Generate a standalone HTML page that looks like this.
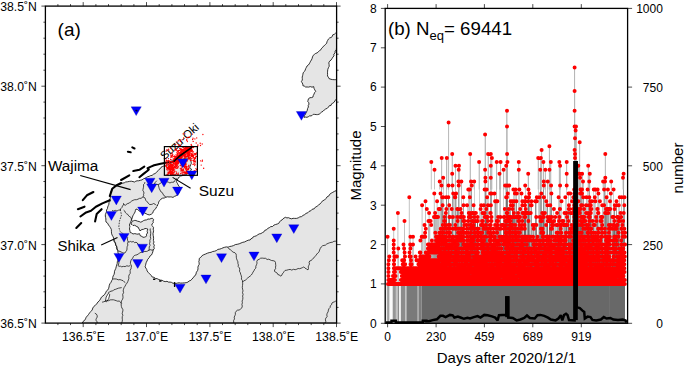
<!DOCTYPE html>
<html><head><meta charset="utf-8"><style>
html,body{margin:0;padding:0;background:#fff;width:685px;height:368px;overflow:hidden}
svg{display:block}
</style></head><body>
<svg width="685" height="368" viewBox="0 0 685 368">
<rect width="685" height="368" fill="#fff"/>
<g>
<rect x="45.4" y="6.1" width="291.2" height="317" fill="#fff"/>
<clipPath id="mc"><rect x="45.4" y="6.1" width="291.2" height="317"/></clipPath>
<g clip-path="url(#mc)">
<polygon points="82.2,323.1 83,321.5 84.6,320.4 85.5,318.9 86.2,317.2 87.4,315.9 88.5,314.5 89.6,312.9 90.9,311.4 92.2,310 92.8,308 93.9,306.4 95.4,305.1 96.9,303.8 97.9,302 99.4,300.7 100.5,299 101.4,297.2 103,295.9 104.5,294.6 105.6,292.9 106.2,291.3 107.6,290.2 108.5,288.7 109,287 109.3,285.2 110,283.6 111.1,282.2 111.7,280.6 112.6,279.2 112.7,277.5 113.2,275.9 114,274.5 114.4,273 114.5,271.3 115.1,269.9 115.8,268.4 116.2,266.8 116.7,265.1 117.2,263.5 117.3,261.8 117.9,260.2 117.9,258.6 118.2,257 118.7,255.5 118.4,253.9 117.9,252.3 117.8,250.6 116.9,249.1 117,247.2 116.2,245.7 115.6,244.3 115.1,242.8 114.1,241.5 113.8,240 113.7,238.2 113,236.6 112.1,235.1 111.5,233.2 111.4,231.3 111.3,229.4 110.5,227.8 109.6,226.4 108.5,225 107.6,223.2 106,222 105.8,220.5 105.9,219 105.6,217.5 105.3,216 105.4,214.5 106,213 106.5,211.6 106.5,210 107.4,208.6 107.7,207 108.3,205.5 108.9,204.2 108.9,202.7 109.8,201.5 109.7,199.6 110.4,197.9 110.3,196 110.5,194.5 110.5,193 111,191.5 111.9,189.9 112.7,188.2 114,187.1 115,185.7 116.7,185.3 118.2,184.5 119.9,184.1 121.3,183.5 122.8,183.1 124.3,182.8 125.6,182 127.5,181.8 129.4,181.4 131.3,181.2 133,181.6 134.6,182 135.8,181.2 137.1,180.8 138.6,180.8 140.3,180.3 142,179.9 143.5,178.8 145,178.3 146.3,177.5 147.7,176.7 149.2,176.3 150.6,175.6 152.1,175.4 153.3,174.3 155.1,173.5 156.6,172.3 157.8,170.9 159,169.4 160.3,168.7 161,167.3 162.3,166.6 163.9,166 165.5,165.3 167.2,165.1 168.5,164.2 170,163.5 171.7,162.8 173.3,162 175,161.5 176.7,161 178.5,160.9 180,160 181.5,159 183.4,159.1 185,158.3 186.4,158.2 187.8,158 189,157.3 189.8,158.5 191,159.5 190.8,160.9 191.2,162.2 191.3,163.5 190.7,164.7 190.2,166.1 189.5,167.3 190.8,168.4 191.5,170 190,171.3 189,173 187.6,173.6 186.5,174.6 185,175 183.5,175.3 182,175.7 180.5,176 179.6,176.9 178.5,177.5 177.9,178.9 177.1,180.1 176.4,181.4 176.9,182.6 177.6,183.7 178.2,185.1 179.1,186.3 179.8,187.7 180.1,189.2 179.7,190.7 179.3,192.2 178.6,193.6 177.3,194.5 176.4,195.7 174.6,196.3 173,197.4 171.7,197 170.4,196.9 169,197 167.4,196.8 165.9,197.2 164.3,198 162.5,198.2 161,199.1 159.7,200.5 158.6,202.1 158.5,203.6 157.6,204.8 157.4,206.1 156.5,206.9 155.9,208.5 154.5,209.6 153.4,211.2 152.7,213.1 151.3,214.2 149.7,214.9 147.8,214.6 146.1,213.7 144.4,212.9 142.6,212.4 141,211.5 139.6,211.2 138.5,210.4 137.5,209.5 136,209 135.4,210.4 135.1,211.9 134.4,213.2 133.6,214.5 132.8,215.9 132.4,217.5 131.8,219 131.2,220.9 130.4,222.6 129.9,223.8 129.4,225 129.9,226.3 129.6,227.7 129.5,229 129.9,230.7 130.2,232.5 131.7,233 133,234 134.8,233.6 136.5,234 138,234.2 139.4,233.6 139.9,234.8 140.5,236 141.9,236.4 143,237.3 144.3,237.2 145.5,237 146.5,235.8 146.5,234.1 147.6,233 147.2,231.6 147.4,230.3 147.8,229 146.4,228.6 145,228.5 143.6,229.3 142,229.5 140.9,230.1 140,231 139.6,229.9 139,229 138.5,228 138,227 136.9,226.7 136,226 134.6,225.3 133,225.5 132.2,224.7 131.2,224.3 131.2,222.6 132.4,221.7 133.5,220.8 134.7,220.4 135.9,220.5 137.5,221.2 139.1,221.5 140.7,222.2 142.1,221.6 143.4,220.7 144.9,220.1 146.5,219.9 148,219 149.7,219.1 151,218.5 152.4,218.2 153.6,219.7 153,221.2 153.3,222.7 152.2,223.8 151.7,225.3 152.8,226.4 153.6,227.7 153.2,229.1 153.6,230.6 153.4,232 153,233.7 153.2,235.4 153.5,237 153.6,238.7 153.4,240.4 154,242 153.4,243.7 154.4,245.2 153.8,246.9 154.3,248.5 153.2,250 152.8,251.9 152.2,253.6 151.4,255.1 149.9,256.1 149.2,257.7 147.8,259.2 147,261 146.1,262.8 145.8,264.1 145.5,265.5 145.1,266.8 145.9,268.1 146.7,269.4 147.1,270.9 148.3,272.5 149.7,273.9 151.1,275.3 152.2,277 154,277.3 155.4,278.4 157.2,278.7 158.8,279.5 160.4,280.1 162.1,280.3 163.6,281.2 165.2,281.6 167,281.3 168.5,282.1 170.1,282.1 171.6,282.4 173,283.3 174.6,283.1 176.1,283.4 177.6,283 179.2,282.8 180.7,283.1 182.5,283 184.3,282.9 186.2,282.7 187.9,282.1 189.1,281 190.8,280.4 191.9,279.1 193.1,277.9 193.9,276.5 195.3,275.5 196,274 196.4,272.2 197.5,270.7 198,268.9 197.9,267.3 198.3,265.8 199.2,264.4 199.1,262.8 198.8,261.4 199.3,260.1 199.1,258.7 200.2,257.7 201.3,256.8 202.1,255.6 203.8,254.7 205.6,254 207.4,253.2 209.2,252.6 211.1,252.3 212.7,251.5 214.6,251.2 216.3,250.6 217.9,249.4 219.8,249.1 221.5,248.5 223,247.8 224.6,247.3 226.3,246.9 228.1,247.2 229.6,246.5 231.6,246.2 233.5,245.6 235.3,244.6 237.2,244.3 239.2,243.8 241,243 242.8,242.3 244.7,241.9 246.4,241 248.2,240.2 250.1,240 250.9,238.8 252.4,238.2 253.1,236.9 254.7,236.3 256.3,235.8 257.7,234.8 259.2,233.9 260.9,233.6 262.3,232.7 263.9,231.9 264.8,230.3 266.6,229.8 267.7,228.4 269.3,227.7 270.8,226.6 272.6,226.5 273.9,225.1 275.6,224.5 277.3,224 278.8,223.3 279.6,221.9 280.6,220.7 282,220 282.9,218.9 284.1,218 285.4,217.3 286.9,217.9 288.5,217.7 290,218.4 291.6,218.8 293.1,218.3 294.7,218.4 296.5,218.4 298.2,217.9 299.8,216.9 301.6,216.6 303,215.4 304.7,214.6 306,213.4 307.8,212.8 309,211.4 310.8,210.8 312.1,209.3 314.2,208.8 315.3,207.2 317.1,206.3 318.5,205 320.1,203.9 321.4,202.4 322.6,200.8 324.5,200 325.9,198.6 327,196.9 328.7,196.1 329.7,194.3 331.2,193.2 332.8,192.3 334.4,191.4 336.1,190.7 337.4,189.3 337.4,323.1" fill="#e5e5e5" stroke="#000" stroke-width="0.8" stroke-linejoin="round"/>
<polygon points="337.4,32.9 335.6,33.1 334.3,34.3 332.8,34.8 332.2,36.6 331,37.5 329.5,38 328.4,39.1 327.7,40.4 327,41.7 326.7,43.2 325.7,44.3 324.7,45.1 323.7,46.1 322.9,47.1 321.7,48.2 320.9,49.7 319.5,50.6 318.4,51.8 317.1,52.9 315.7,53.4 314.5,54.3 313.2,55.4 312.5,56.9 312.1,58.5 311.4,60 310.6,61.2 309.9,62.6 309.2,63.9 308.3,65.1 307,66 306.4,67.3 305.7,68.6 305.2,70.1 304.4,71.5 303.2,72.7 302.9,74.3 302.6,75.7 302.2,77.1 302.3,78.6 302.3,80.1 301.4,81.4 302.1,82.8 302.8,84.1 302.9,85.7 304.3,86.1 305.6,87 307.1,87 308.6,87.1 310.3,86.6 312,87.2 313.7,86.6 314,88.3 314.8,89.9 315.7,91.4 314.6,92.6 314,94.1 313.3,95.5 312.9,97.1 311.5,97.6 310,97.7 308.5,98.7 308,100.4 307.8,101.7 308.7,102.6 309,104.1 308.2,105.5 308.4,107 307.6,108.5 307.3,110.2 306.7,111.6 305.9,113 305.3,114.5 304.2,115.7 304,117.3 305.5,117.1 307,117.3 308.4,116.7 309.5,115.9 311.1,115.9 312.3,115.3 313.3,114.3 314.7,114.4 316.2,114.6 317.6,114.6 319.2,114.2 320.4,113.2 321.6,112.1 323,111.3 324.2,110 325.6,109 327.3,108.3 328.5,107 329.3,105.7 331,105.5 331.5,103.9 332.8,103.2 334.3,102.1 335,100.4 336.1,99.5 337.4,99 337.4,80.6 335.9,79.7 334.2,79.7 332.6,79.6 331,79.3 330,78.9 329,78.6 328.4,77.2 327.5,76 327.6,74.4 327.5,72.8 327.6,71.1 327.8,69.4 328.4,67.8 329.2,66.3 329.1,64.5 328.8,62.8 329.6,61.2 331,60.1 332,58.6 332.9,57.1 334,55.9 333.8,54.1 335.1,52.9 335,51.1 336.3,50 336.5,48.3 337.4,47" fill="#e5e5e5" stroke="#000" stroke-width="0.8" stroke-linejoin="round"/>
<polygon points="105.4,301.2 106.2,297 108.4,293.3 109.8,294.6 108.6,298.8 106.6,301.8" fill="#fff" stroke="#000" stroke-width="0.7"/>
<polyline points="120.3,209.6 121.5,215 119.5,221 118.8,227 120,231.5 123.5,234 127.7,237.2" fill="none" stroke="#000" stroke-width="0.7" stroke-dasharray="1.6,1.1"/>
<path d="M153.6 279.3h1.2M159.7 281h1.3M174.6 282.8v3.6" stroke="#000" stroke-width="1.4" stroke-linecap="round" fill="none"/>
<polyline points="227.9,247.5 229,248.9 230.5,249.8 231.8,251 233.1,252.2 234.9,252.7 236.1,254 236.3,255.6 236.3,257.2 236.6,258.8 237.2,260.3 237.9,261.8 237.9,263.4 238.4,264.9 238.2,266.6 239.5,268 239.7,269.6 239.5,271.3 240.3,272.7 240.7,274.3 241.3,275.8 241.6,277.4 241.4,279.1 242.4,280.5 242.6,282.1 242.7,283.9 242.5,285.6 242.3,287.4 242.6,289.1 243,290.9 242.5,292.6 243.1,294.4 242.6,296.1 242.9,297.8 242.7,299.5 242.1,301.1 242.4,302.8 241.9,304.4 242.3,306.1 241.9,307.8 240.6,309 239.2,310 237.4,310.2 236.1,311.3 235.3,312.6 235.4,314.3 234.9,315.7 234.2,317.1 234.5,318.9 233.6,320.6 233.7,322.4 233.3,324.1" fill="none" stroke="#000" stroke-width="0.7" stroke-linejoin="round"/>
<polyline points="242.6,282.1 243.6,280.9 245.2,280.3 246.4,279.3 247.6,278.2 248.7,277 250.1,276.2 251.3,275 252.3,273.6 253,272.1 254,270.7 254.7,269.2 255.9,268 255.8,266.3 256.5,264.7 257,263.2 256.8,261.4 257.6,259.9 259.2,259.3 260.6,258.2 262.3,258.1 263.9,258.3 265.6,258.3 267.1,259.5 268.8,259.2 270.2,259.9 271.6,260.5 273.1,260.7 274.6,261 275.5,262.5 275.6,264.1 275.8,265.7 275.5,267.2 275.6,268.7 274.5,270 274.6,271.5 275.9,272.3 277.2,273.1 277.9,274.6 279.6,275 280.5,276.2 281.8,275.3 282.3,273.9 283.3,272.8 284.1,271.5 285.1,270.4 286.8,270.2 288.4,269.7 290.1,269.4 291.8,270.1 293.4,269.3 295.2,269.7 296.8,269.2 298.1,268.5 299.7,268.7 301.1,268.2 302.5,267.6 303.8,266.9 305,268.1 306.6,269 308,269.9 308.5,268.5 308.2,266.9 308.8,265.4 309.5,264 309.1,262.4 309.7,261 311.1,260.5 312.2,259.6 313.1,258.3 314.3,257.5 315.1,256.3 316.1,255.2 316.9,254 317.9,252.9 319.2,251.7 319.6,250 320.3,248.4 321.2,247 322.5,245.8 324,245.4 325.5,245.1 326.7,244 328.1,243.4 329.5,242.8 331,242.4 332.5,242.2 333.9,241.3 335.4,241.2 336.4,241.2 337.4,241" fill="none" stroke="#000" stroke-width="0.7" stroke-linejoin="round"/>
<polyline points="324.9,323.1 325.8,321.6 325.4,319.8 325.8,318.1 327.1,316.7 326.8,314.9 327.2,313.3 328.1,311.8 328.4,310.1 329,308.6 330.1,307.5 330.3,305.8 331.6,304.7 331.9,303.1 333,302.3 334.3,301.9 335.4,301.2 336.4,301.5 337.4,301" fill="none" stroke="#000" stroke-width="0.7" stroke-linejoin="round"/>
<polyline points="127.7,237.2 127.4,238.8 127.6,240.4 128.2,241.9 127.5,243.3 127.9,245.1 127.2,246.5 127,247.7 127,249 126.8,250.2 125.8,251.6 124.9,253 123.6,253 122.4,252.6 121.2,252 119.9,251.4 118.6,251.1 117.5,250.2 117.2,249 116.4,247.8 116.6,246.5 115.6,245.1 115.6,243.4 114.8,241.9 114.2,240.5 113.8,239.1" fill="none" stroke="#000" stroke-width="0.7" stroke-linejoin="round"/>
<polyline points="128.2,241.9 129.4,241.9 130.5,241.4 131.8,242 133.3,241.5 134.5,242.6 136,242.3 137.1,242.8 137.8,244 138.8,244.6 140.1,245.6 140.5,247.2 141.6,248.3 142.5,249.4 142.6,250.9 143.4,252 142.1,252.1 140.9,252.4 139.7,253 138.4,253.9 137,254.8 135.6,255.1 134.3,255.6 133.3,256.7 132.7,258.3 131.4,259.4 130.9,260.7 130.5,262 130.4,263.4 130.9,264.7 131.5,266 131.2,267.4 131,268.9 130.1,270.2 130.2,271.7 130.2,273.4 129.1,274.9 128.7,276.5 128.9,278.3 128.4,279.9 127.8,281.5 127,283.1 125.9,284.5 125.1,286.1 124.1,287.6 123.5,289.2 123.2,290.9 123.6,292.7 122.7,294.3 122.9,296.1 123,297.7 122.6,299.2 121.7,300.5 121.2,302 121.2,303.5 121.2,305 121.4,306.5 121.9,308 122.8,309.3 122.9,310.8 122.5,312.2 122.2,313.7 122.9,315.2 122.3,316.6 122.2,318.1 122.4,319.6 122.3,321.1 121.8,322.5 121.7,324" fill="none" stroke="#000" stroke-width="0.7" stroke-linejoin="round"/>
<polyline points="143.4,252 144.8,251.4 146.3,251.5 147.7,251 149,250.2 150.4,249.7 152,250.2 153.4,249.7" fill="none" stroke="#000" stroke-width="0.7" stroke-linejoin="round"/>
<polyline points="150.3,228.5 150.1,230.1 150.7,231.7 150.7,233.4 150.5,235 150.3,236.7 150.7,238.5 149.8,240.2 150,242 149.5,243.6 150.1,245.3 149.2,246.9 149.2,248.6 149,250.2" fill="none" stroke="#000" stroke-width="0.7" stroke-linejoin="round"/>
<polyline points="116.8,254.6 117.5,256.3 118.2,257.9 119.2,259.4 118.5,260.9 118.9,262.6 118.7,264.1 118,265.6 119.1,266.3 120.5,266.2 121.7,266.8 123.4,266.4 125.1,266.6 126.8,265.8 128.6,266.2 130.2,265.6" fill="none" stroke="#000" stroke-width="0.7" stroke-linejoin="round"/>
<polyline points="113.1,279 114.9,278.9 116.6,279.1 118.2,279.8 120,279.6 121.7,280.2 123.1,280.7 124.1,281.8 125.3,282.7" fill="none" stroke="#000" stroke-width="0.7" stroke-linejoin="round"/>
<polyline points="108.2,292.5 109.7,291.9 111,291.1 112.6,291 113.8,289.8 115.4,289.4 116.8,288.8 118.4,288.2 120,287.9 121.7,287.6" fill="none" stroke="#000" stroke-width="0.7" stroke-linejoin="round"/>
<polyline points="102.1,302.2 103.7,301.8 105.3,301.2 106.9,300.5 108.7,300.7 110.2,299.9 111.9,299.8 113.4,299.8 114.8,300.2 116.3,300.7 117.7,301.2 119.2,301 120.5,302.2 121.7,303.5" fill="none" stroke="#000" stroke-width="0.7" stroke-linejoin="round"/>
<polyline points="94.8,313.2 96.4,314.1 97.2,315.7 97.2,317.1 96.5,318.2 96,319.4 96.2,320.7 97.1,321.8 97.2,323.1" fill="none" stroke="#000" stroke-width="0.7" stroke-linejoin="round"/>
<polyline points="144.9,182.1 144.6,183.5 143.5,184.5 143.6,186.1 143.4,187.7 143,189.3 142.9,190.7 143.7,191.8 144,193.1 143.5,194.3 143.7,195.7 143,196.9 142,197.6 141.1,198.3 139.4,198.4 138,199.2 136.4,199.7 134.7,199.7 133.1,200.3 131.6,201.1 130.4,202 129.3,203.1 127.8,203.5 126.4,204.2 125.4,205.4 124.2,204.7 123.5,203.5 123.5,204.9 122.4,206 122.1,207.3 120.9,208.5 120.2,210 118.5,210.2 117,211 115.4,210.4 113.6,211 112,210.5" fill="none" stroke="#000" stroke-width="0.7" stroke-linejoin="round"/>
<polyline points="143,196.9 143.9,197.4 144.9,197.8 145.4,199.1 145.9,200.5 146.8,201.6 147.9,202.4 148.6,203.6 149.7,204.5 151.1,204.5 152.3,204.2 153.5,203.5 155.1,204.2 156.3,205.4" fill="none" stroke="#000" stroke-width="0.7" stroke-linejoin="round"/>
<polyline points="156.8,180.7 156,181.6 155.1,182.6 154.4,183.6 155.6,184.2 156.8,184.6 158.2,184.5 159.7,184 160.7,182.8 162,182.1 163.6,182.1 165,181.2 166.7,181.7 168.4,182.2 170,183 171.2,182.3 172.7,182.3 174,182 174.7,180.6 175.8,179.5 177,178.5" fill="none" stroke="#000" stroke-width="0.7" stroke-linejoin="round"/>
<polyline points="158.2,184.5 158.6,185.9 158.9,187.3 159.3,188.7 160,190 160.7,191.6 162.2,192.5 163,194 163.7,195.4 165,196.2 166,197.2" fill="none" stroke="#000" stroke-width="0.7" stroke-linejoin="round"/>
<polyline points="123.6,210.1 124.8,211.1 125.4,212.6 126.5,213.7 127.9,214.5 128.7,215.9 129.9,216.8 131.2,217.7 131.4,219.5 132.3,221" fill="none" stroke="#000" stroke-width="0.7" stroke-linejoin="round"/>
<polyline points="82.8,200.2 86.9,195.3 93.4,192" fill="none" stroke="#000" stroke-width="2.1" stroke-linecap="round" stroke-linejoin="round"/>
<polyline points="77.9,209.2 84.5,206.7" fill="none" stroke="#000" stroke-width="2.1" stroke-linecap="round" stroke-linejoin="round"/>
<polyline points="80.4,216.5 86.1,212.4 91,210.8 95.9,206.7 102.4,203.4 109.8,200.2" fill="none" stroke="#000" stroke-width="2.1" stroke-linecap="round" stroke-linejoin="round"/>
<polyline points="95.1,221.4 96.7,214 101.6,209.2" fill="none" stroke="#000" stroke-width="2.1" stroke-linecap="round" stroke-linejoin="round"/>
<polyline points="76.3,227.9 81.2,223" fill="none" stroke="#000" stroke-width="2.1" stroke-linecap="round" stroke-linejoin="round"/>
<polyline points="109.8,196.1 112.2,188.8 116.3,185.5 121.2,183" fill="none" stroke="#000" stroke-width="2.1" stroke-linecap="round" stroke-linejoin="round"/>
<polyline points="121.1,180 129.3,175.3" fill="none" stroke="#000" stroke-width="2.1" stroke-linecap="round" stroke-linejoin="round"/>
<polyline points="133.3,171 139.4,169.8 144.3,166.6" fill="none" stroke="#000" stroke-width="2.1" stroke-linecap="round" stroke-linejoin="round"/>
<polyline points="174.1,161.2 171,161.8 167.2,162.5 160.6,163.7 154.1,165.3 150.9,166.6 147.6,168.2 148.8,169.4 147.2,171 143.5,173.9 139.4,177.2" fill="none" stroke="#000" stroke-width="2.1" stroke-linecap="round" stroke-linejoin="round"/>
<polyline points="127.9,151.7 130.7,152.2" fill="none" stroke="#000" stroke-width="2.1" stroke-linecap="round" stroke-linejoin="round"/>
<polyline points="132.3,147.4 134.5,148.5" fill="none" stroke="#000" stroke-width="2.1" stroke-linecap="round" stroke-linejoin="round"/>
</g>
<text x="0" y="0" font-size="11.5" style="font-family:'Liberation Sans',sans-serif" transform="translate(164.6,160.2) rotate(-42)">Suzu-Oki</text>
<path d="M183.9 160.2h0M185.5 163h0M186.7 160.8h0M185.1 162.8h0M185.9 163.2h0M185.9 163.5h0M183.8 161.4h0M184.2 160.6h0M185.4 161.4h0M183.6 162.5h0M184.5 164.5h0M185.3 160.8h0M183.7 161.6h0M170.6 159.5h0M170.8 159.5h0M170.7 164.3h0M173.5 160.4h0M171.1 159.6h0M171.5 161.4h0M173.1 161.3h0M169.7 161.7h0M169.3 162.3h0M187.2 147.9h0M185.2 148.2h0M189.1 148.3h0M177.7 163.2h0M174.8 163.3h0M176.9 164.4h0M178.3 163h0M175.5 163.7h0M173.8 165.2h0M178.6 163.2h0M194.8 154.7h0M195.7 157.1h0M196 154.3h0M169.9 165.2h0M169 166.4h0M171.1 166.4h0M170.4 164.8h0M168.9 166.3h0M169.8 166.1h0M168.7 164.2h0M170.9 166.6h0M168.5 164.8h0M169.1 166.1h0M170.4 165.5h0M171.1 166.1h0M170 167.1h0M169.2 166h0M171.1 164.6h0M174.9 150.4h0M177.6 151.2h0M175 149.8h0M178.6 150.3h0M176.4 150.1h0M177.4 150.9h0M176.4 149.3h0M177.2 151h0M186.9 147.2h0M187.6 147.5h0M187.6 147.4h0M187.9 147.5h0M192.7 151.6h0M190.6 151.3h0M189.3 149.4h0M190.7 149.7h0M192.4 150.4h0M191.1 148.6h0M188.7 152.1h0M180 161.6h0M179.9 161h0M180.2 161.2h0M181.4 161.4h0M181.7 161.2h0M181.5 159.7h0M178.9 161.5h0M180.8 161.8h0M180.2 160.5h0M181.2 160.3h0M182.4 160.8h0M181.3 162.4h0M181.2 162.9h0M181.8 159.6h0M181.4 162h0M173 159.1h0M173.4 162.2h0M171.9 162.1h0M173 161.8h0M174.4 161.1h0M174.1 159.9h0M174.1 160.3h0M173.4 162.9h0M185.9 162.2h0M184.2 161.9h0M185.3 164h0M184.6 161.8h0M184.8 162.1h0M186.2 164.7h0M185.3 164.9h0M186.1 148.5h0M184.9 150.6h0M183.5 149.3h0M185.4 148.9h0M186.2 150.9h0M186.2 149.5h0M185.4 149.5h0M179.5 150.5h0M184.4 152.3h0M183 149.7h0M181.3 151.7h0M182.3 151.3h0M184 152.6h0M184.6 150.5h0M182.5 149.4h0M183.7 149.6h0M181.8 153.2h0M185.1 151.8h0M184 148.1h0M183.8 151.1h0M182.9 150.8h0M171.5 157h0M170.7 154.9h0M172.2 153.9h0M172.4 155.3h0M170.6 157.1h0M172.2 157h0M172.6 155.6h0M172.7 155.3h0M171.3 155.9h0M172.9 154.8h0M187.8 156.3h0M189.3 156h0M187.3 156.4h0M188.6 156.9h0M186.9 156.9h0M189.2 158.8h0M191.4 156.5h0M188.5 156.5h0M190.1 158.2h0M189.1 158.4h0M188.8 157.4h0M190.3 157.2h0M188.9 157.1h0M194.9 153.7h0M195.9 156.6h0M196.4 153h0M195.4 154.8h0M195.9 153.5h0M196.6 156.4h0M178.3 162h0M178.4 163.6h0M178.9 161.8h0M178.7 162h0M178.2 163.6h0M178.6 163.2h0M177.1 161.9h0M179.5 160.6h0M178.2 160.2h0M185.3 147.7h0M184.9 148h0M186.4 147.3h0M186.5 156.2h0M184 157h0M184.2 156.7h0M184.6 154.6h0M187.4 155.4h0M185.7 154.2h0M166.7 167.6h0M168.3 168.8h0M168.6 168.8h0M169 167.6h0M166.9 169.4h0M169.4 168.7h0M168.4 167.4h0M168.9 167.8h0M168.8 167.2h0M169.3 169h0M168.4 167.4h0M168.8 166.6h0M170 167.9h0M167.9 168.5h0M167.3 170.1h0M187.1 148.5h0M185.5 148.7h0M186.4 147.6h0M185.9 148.3h0M185.7 148h0M186.8 147.8h0M187.3 148.9h0M186.4 147.6h0M186.1 149.9h0M186.3 147.8h0M185.9 147.5h0M172.9 168.8h0M171.2 169.6h0M173 168h0M171.8 169.3h0M174.1 170h0M173.2 169h0M173.4 169.3h0M175.4 168.1h0M172.6 170.7h0M190 148.5h0M189.9 147.4h0M192.5 147.6h0M192.5 147.5h0M193.6 147.5h0M190 147.5h0M190.3 148.5h0M191.2 149h0M190.9 149.2h0M190.6 148h0M192.9 147.2h0M191.4 147.7h0M190.7 147.1h0M191.3 147.6h0M191 148.9h0M182.3 154h0M183.8 156h0M183.1 152.6h0M182.9 154.9h0M182 157.1h0M183 154.7h0M182.9 154.3h0M182.4 155.2h0M183.6 154.6h0M178.9 158.5h0M179.1 156.5h0M179 159.2h0M180.4 157.3h0M180 158.4h0M178.9 158h0M179.7 159h0M180.7 157.1h0M178.8 156.7h0M180 157.1h0M180 158.6h0M181.4 157.4h0M179.8 157.2h0M179.5 156.4h0M181 157.9h0M180.5 157.9h0M177.2 163.7h0M176.1 164.5h0M175.2 162.6h0M176.2 162.7h0M175.4 164.6h0M173.9 161.3h0M176 164.2h0M173.8 161.5h0M176 162.8h0M175.8 164.4h0M177.1 162.5h0M174.9 163.4h0M173.3 163.9h0M176.8 162.2h0M174.8 162.6h0M176.6 162h0M185.8 151h0M187 149.5h0M186.1 148.8h0M185.8 150.9h0M186.1 148.4h0M187 150h0M186.2 148.2h0M187.6 150.4h0M184.1 148.2h0M188.6 148.3h0M184.5 149.9h0M186 150.1h0M184.3 150.7h0M190 150.6h0M189.3 147.3h0M188 148.9h0M188 148.5h0M189.4 148.4h0M188.6 150h0M189.7 150.2h0M187.4 149.1h0M189.4 149.5h0M189.8 151.1h0M189.3 147.7h0M175.8 159.4h0M175.3 156.8h0M176.8 160h0M176.6 160.6h0M175 158.5h0M175.8 161h0M173.6 158.9h0M174.7 159.8h0M177.1 158.8h0M174.1 159.2h0M175.1 157.5h0M176.4 158.6h0M176.2 157.7h0M176.7 157.6h0M183.7 147.8h0M182.7 147h0M185.7 147.2h0M177.5 158.5h0M180.9 156.5h0M180.8 156.6h0M180.3 156.1h0M177.3 158.7h0M178.5 155.5h0M181.3 158.3h0M178.9 157.6h0M180.8 158.6h0M181.4 156.8h0M186.2 152.7h0M185.2 152h0M185.9 151h0M187.7 151.8h0M185.8 151.1h0M186 152.7h0M185.5 152.2h0M187.9 150h0M185.7 152.3h0M173.5 160.8h0M172.8 162.3h0M172.4 164.4h0M173.6 163.4h0M169.9 163.2h0M170.7 161.6h0M172 164.5h0M170.5 163.9h0M174.3 163.8h0M176.6 168.3h0M176 165.2h0M178 162.1h0M175.6 165.4h0M176.6 166.2h0M177.2 164.8h0M175.5 165.6h0M175 166.5h0M186.9 149.2h0M186.6 147.9h0M188.8 147.7h0M187.2 149.3h0M186.5 148.9h0M185.9 147.6h0M186.2 148.8h0M186.4 147.1h0M187.3 149.5h0M185.5 150.2h0M185.2 147.2h0M185.8 149.6h0M187.3 148.2h0M171 167.8h0M172.8 166h0M172.9 167.9h0M172.7 168.8h0M172.5 167.8h0M171.6 168.8h0M170.3 168.1h0M173.1 168.7h0M176.9 152.7h0M177.4 153.3h0M178.3 153.1h0M179.5 153.8h0M178.1 154.6h0M177.7 155h0M177.5 153.7h0M177.7 154.7h0M179.5 155h0M178.1 155.3h0M177.9 154.7h0M177.1 153.1h0M183.6 153h0M181 152.2h0M179.5 154h0M182.1 152.4h0M181.6 155.1h0M182.4 153h0M183.4 151.5h0M181.7 153.3h0M182.6 152.8h0M192.5 147.1h0M190.2 147.6h0M191.1 150.4h0M189.1 151.2h0M189.7 150.4h0M190 148.3h0M189.2 148.8h0M190.3 149.1h0M181.9 161.7h0M181.6 163.3h0M182.2 160.7h0M182.9 161.2h0M185 162.4h0M183.6 161.6h0M181.6 163h0M184 161.7h0M181.7 162.3h0M183.7 161.9h0M184.6 163.1h0M184.3 161.4h0M181.4 161.4h0M177.3 161.8h0M176.8 163.4h0M175.4 160.8h0M177.6 162.5h0M176.8 159.9h0M175.3 164.4h0M174.6 161.1h0M181 164.8h0M183.1 165.6h0M180.6 162.9h0M184.3 165h0M183.7 164.8h0M182.8 163.8h0M182.8 164.8h0M182.6 164.2h0M184.3 162.6h0M181.9 164.5h0M182.4 163.7h0M185 164.3h0M182.3 165.1h0M185.5 162.6h0M181 157.2h0M182.1 155.7h0M181.1 157.5h0M182.1 157.2h0M180.1 156h0M179.6 156.7h0M172.7 166h0M169.9 167.3h0M170.5 168.6h0M172.1 165.1h0M173 168.1h0M173.1 167.4h0M171.7 168h0M171 166.2h0M171.6 168.2h0M171.4 166.1h0M168.9 165.9h0M189.1 148h0M188 149.5h0M188.1 149.7h0M188.8 148.1h0M189.2 148.5h0M187.9 147.9h0M190.2 148.3h0M180.6 153h0M181.7 152.7h0M181.7 152.8h0M182.8 153.6h0M180.8 153.7h0M180.9 151.2h0M179.9 154.7h0M181.4 153.8h0M189.6 155.5h0M193.6 155.4h0M193.2 154.8h0M193.1 154.9h0M190 154.8h0M191.2 153.9h0M192 153.5h0M191.3 156.1h0M192.3 154.3h0M190.5 155.1h0M191.4 154.8h0M192.1 153.5h0M192 153.8h0M192.2 154.8h0M189.2 148.6h0M189.8 148.2h0M191.2 150.1h0M189.4 147.8h0M189.9 147.8h0M190.2 148.4h0M189.3 148.6h0M189.5 150.2h0M188.5 149.7h0M189.1 149h0M189.6 150.8h0M189.5 148h0M190.6 149.5h0M190.1 148.2h0M191.3 151h0M181.5 156.3h0M181.1 155.1h0M182.1 155.4h0M181.7 159.4h0M182.3 155.9h0M179.7 155.9h0M182.3 155h0M181.2 153.3h0M182.1 155.1h0M182.3 157.3h0M181.3 156.9h0M181.8 155.6h0M178.9 160.1h0M180 158.4h0M178.6 161.4h0M179.4 160.7h0M178.4 162.3h0M178.7 159.2h0M177.1 161.3h0M178.4 159.2h0M176.8 160.5h0M178.9 161.5h0M177.2 160.1h0M179.2 160.7h0M179.8 159.9h0M176.5 160.2h0M176.9 160.3h0M184.6 154.7h0M186.2 152.1h0M185.6 152.9h0M181.7 154.2h0M184.2 152.9h0M184.4 154h0M187.6 151.8h0M187 151.8h0M188.5 153.9h0M188.5 153.2h0M186.9 153.3h0M187.5 151.4h0M187.1 152.4h0M187 153h0M189.5 151.2h0M186.8 152.4h0M188.9 153.6h0M187.7 153h0M187 153.7h0M189.4 154.3h0M186.6 151.8h0M186.2 152.9h0M185.4 151.7h0M187 152.2h0M185.5 152.2h0M185.7 152.2h0M186 150.8h0M186.6 152.8h0M186.2 151.8h0M185.8 152.7h0M186.9 151.3h0M188.2 152.6h0M186.8 152.3h0M185.8 151.1h0M185.7 151.4h0M188.4 152.2h0M187.1 152.3h0M187 152.2h0M185.9 152h0M186.4 152.2h0M187.3 152.2h0M174.7 158.2h0M173.5 156.6h0M174.7 156h0M177.6 159h0M175.9 157.4h0M176 158.6h0M176 157h0M175.3 158.4h0M176.1 154.6h0M176.5 155.8h0M182 151.1h0M183 150h0M182.6 150.8h0M182 149.4h0M183.7 150.1h0M181.7 150.6h0M180.8 150.1h0M180.9 149.6h0M180.4 149.3h0M183.3 149.9h0M175.7 157.6h0M174.8 160.1h0M175.9 159h0M177.6 156.7h0M176.4 157.5h0M177 158.1h0M175 158.2h0M177.2 157.8h0M177 157.6h0M171 165.1h0M169.3 169.1h0M168.4 167h0M171.6 167.5h0M169 167.8h0M169.5 168.1h0M170 165.5h0M176.1 162.8h0M177.8 163.4h0M174.8 164h0M175.7 161.8h0M177.7 161.8h0M175.5 163.5h0M176.4 162.1h0M178 163.4h0M177.6 164.8h0M177 166h0M175.8 164.4h0M178.2 161.9h0M177.7 161.3h0M178.5 163.6h0M176.9 163.2h0M176.4 164.2h0M183.5 152.8h0M186.5 149.6h0M185.6 151.8h0M183.4 152.3h0M185 150.8h0M185.3 150.4h0M186.4 152.6h0M185.3 150.7h0M185.2 150.4h0M183.6 153.5h0M183.6 153.9h0M186.3 152.4h0M185.9 152.5h0M185.5 152.4h0M184.9 153h0M181.9 153.4h0M179.6 152.9h0M180.3 153.6h0M180.5 152.4h0M180.7 151.5h0M178.1 153.5h0M179.5 152.7h0M178.3 151.9h0M187.2 156.1h0M184.6 155.8h0M183.1 155h0M184.9 155.2h0M185.1 155.9h0M185.1 155h0M183.7 154.8h0M184.6 155.6h0M187.4 156.3h0M185.7 151.5h0M188.1 148.7h0M187.8 150.3h0M188.3 150h0M187 149.5h0M187.5 150.2h0M186.6 150h0M186.5 151h0M186.2 148.7h0M186.2 151.5h0M186.7 151h0M188.1 149.8h0M188.1 150.9h0M187 150.6h0M186 150.5h0M185.8 150.4h0M185.8 152h0M185.4 151.3h0M185.4 152.9h0M184.6 150.9h0M185 151h0M185.6 149.6h0M184.5 150.3h0M186.4 152.1h0M184.8 151.3h0M183 151h0M184.9 148.9h0M183 147.3h0M166.2 163.9h0M167.3 163.2h0M165.4 166h0M167.8 167.1h0M166.8 164.6h0M168.5 166.4h0M166.8 165.7h0M166.4 166.6h0M166.8 165.5h0M168.9 163.8h0M165.1 161.8h0M166.6 167.3h0M182.8 150.4h0M183.8 150.7h0M182.6 151h0M184.6 150.3h0M184.7 151.2h0M183.9 148.2h0M184.9 151h0M185.9 151.2h0M184.2 150.4h0M185.7 149.7h0M178.3 166.6h0M175.6 166.8h0M177.1 167.3h0M174.8 166.7h0M175.8 167.1h0M176 164.8h0M174.4 166.3h0M175.4 165.8h0M175.1 167.4h0M178.4 159.6h0M177.1 160.9h0M176.9 159.5h0M176.6 160h0M176.7 161h0M176 161.4h0M176.8 160.3h0M177.5 160.5h0M176.4 158h0M176.9 159.4h0M177.6 160.5h0M175.8 161.2h0M176.7 160.7h0M177.2 160.5h0M175.7 160.1h0M176.3 160.2h0M166.2 160.6h0M167 162.1h0M167.6 161h0M166.6 160.7h0M168.2 160.3h0M168.5 158.6h0M169.1 160.7h0M182.6 149.7h0M179.7 148.4h0M180.8 150.2h0M183.3 151h0M181.6 149.1h0M180.8 148.6h0M182 151.5h0M181.8 149.6h0M180.1 148.7h0M187.2 148.9h0M189.2 151.7h0M189 152.3h0M190.8 150.2h0M189.3 152.1h0M188.3 153.4h0M188.6 152.2h0M189.4 151.4h0M188.6 152.3h0M188.6 152.1h0M190.3 153h0M188.6 154.1h0M189.2 153.4h0M189.9 152.5h0M182 160.3h0M181.2 160.7h0M183.6 160.5h0M183.8 161.5h0M182.1 161.3h0M183.8 160.1h0M184.4 161.2h0M175.9 156.5h0M176.9 157.2h0M177.7 156.3h0M176.4 156.3h0M175.8 156.8h0M176.2 157.1h0M177.1 156.1h0M174.6 156.7h0M178.2 154.9h0M175 156.1h0M191.2 150.4h0M191.7 149.3h0M191.2 149.7h0M191.6 150.1h0M190.8 150.6h0M190.3 149.1h0M190.4 149.8h0M191.1 151.3h0M191.3 149.9h0M191.8 150.6h0M192.5 150.3h0M190.7 148h0M192.2 151.9h0M190.7 151.4h0M190.4 149.6h0M178 161.6h0M178.1 162.5h0M178 161h0M178.4 161.4h0M176.2 160.9h0M179.4 161.4h0M177.6 162.3h0M177.5 161.8h0M177.3 162.5h0M177.9 162.3h0M178.3 162.5h0M177.7 162.9h0M179.2 162h0M177.6 162.3h0M178.6 162.7h0M187 154.7h0M188.1 154.7h0M187 153.5h0M185.3 155.2h0M187.9 155.1h0M187 154.8h0M187.1 153.7h0M188.5 155.5h0M188.8 154.8h0M171.9 165.1h0M173 166.7h0M171.6 168.8h0M170.2 165.4h0M172.8 167.4h0M170.5 165.8h0M174.2 167.9h0M172.3 166.3h0M171.6 166.7h0M171.4 164.1h0M170.9 166.4h0M178.1 158.7h0M177.6 160.6h0M178.8 157.9h0M177.7 159.1h0M177 157.2h0M179 156.7h0M179 159.6h0M179.9 158.2h0M180.3 157.8h0M179.7 155.6h0M182.3 156.8h0M179.2 157.2h0M179 156.6h0M177.6 154.9h0M181.4 155.4h0M179.6 156.1h0M180.4 155.5h0M179.7 158h0M182.1 156.4h0M179.1 155.4h0M180.1 156.6h0M182.2 155.5h0M180.6 155.6h0M180.6 155.3h0M176.7 166.6h0M177.7 168.1h0M180.2 165.6h0M177.8 167.8h0M178.3 166.8h0M175.6 167.8h0M174.3 167.1h0M171.2 172.8h0M171.9 173.1h0M171 174.9h0M170.9 173.7h0M170.4 171.7h0M171.8 172.6h0M170.5 174.6h0M171.6 174h0M183.2 169h0M182.7 169.6h0M180.3 168.3h0M181.5 169h0M180.9 169.7h0M183.2 169.2h0M183.4 169.7h0M181.5 168.1h0M186.1 171.7h0M186.2 170.8h0M186.3 172.1h0M186.4 171.5h0M186.2 171.1h0M186.1 172.6h0M186.7 172.8h0M186.3 172.4h0M176.6 164.3h0M178.7 161.2h0M176.5 163.3h0M177.6 163.4h0M178.4 162.9h0M177.7 165h0M168.1 172.4h0M168.2 174.7h0M167.1 174.4h0M169 172h0M168 172.2h0M168 173.6h0M177.7 174.6h0M178.4 173.1h0M180.7 173.5h0M178.2 174.5h0M186 172h0M184.8 172.3h0M182.2 172.1h0M183.9 171.1h0M185.6 173.3h0M172.7 168.4h0M172.4 168h0M170.6 168.7h0M172.9 169.6h0M173.6 169.7h0M174.7 169.9h0M173.9 168.3h0M171.6 168.2h0M171.9 170.2h0M168.5 167.6h0M166.8 168h0M168.3 168.4h0M167.6 168.6h0M169.4 169.3h0M168.3 167h0M170.1 169.4h0M169.8 170.9h0M171.4 171.3h0M170.4 170.5h0M168.9 170h0M170.1 173h0M169.9 171.6h0M170.1 172.3h0M171 173.8h0M170.9 173.5h0M171.1 172.4h0M169 173.2h0M171.8 172.1h0M169.5 172.6h0M168.9 172.1h0M169.8 167h0M169.4 165.2h0M169.1 164.8h0M170.7 165.2h0M170.7 165.8h0M182.9 165.9h0M184.2 166h0M184.3 165.4h0M181.6 164.7h0M183.9 164.6h0M174.3 169.9h0M176 171.6h0M173.2 172.6h0M174.1 171.4h0M172.2 170.8h0M172.5 171.8h0M173.5 170.4h0M174.3 172.1h0M173.1 169.6h0M174.4 171.6h0M172.9 172.8h0M170.6 174.1h0M171.9 173.4h0M171.3 173.5h0M169.9 172.9h0M172.1 173.2h0M170 173.1h0M170.2 173.1h0M172.4 174.4h0M168.8 168.6h0M168.1 167.9h0M171.6 167.1h0M171.3 167.6h0M171.6 168.3h0M170.4 167.9h0M170.5 168.3h0M168.6 167.5h0M181.8 170.1h0M182.4 170.8h0M183.2 170.2h0M183.1 169.7h0M181 171h0M184.1 172.6h0M184 171.4h0M188.5 169.5h0M186.6 168.4h0M185.8 169.4h0M186.7 170h0M188.5 169.6h0M186.6 170.6h0M187.3 171.2h0M185.1 172.4h0M186.3 169.8h0M182.7 174.2h0M185.1 173.4h0M184.1 174.3h0M182 172.9h0M183.4 172.6h0M174.9 174.7h0M176 174.1h0M176.9 173.6h0M176.6 173h0M171.3 173.9h0M173.6 174.6h0M173.2 173.1h0M170.7 173.7h0M171.5 174.1h0M171.9 172h0M172.5 172.8h0M172.6 173.7h0M173.9 173.1h0M187.5 171.9h0M186.5 172.7h0M185.8 172.7h0M187.8 173.5h0M186.6 173h0M186.1 171.7h0M185.8 172.5h0M187.1 173.2h0M186.1 173.6h0M186.3 170.8h0M192.8 157.8h0M192.7 156.2h0M193.4 155.8h0M188.9 168.4h0M187.5 169.3h0M188 169.6h0M186.9 167.9h0M187.6 169.3h0M185.8 167.9h0M193.5 156.9h0M195.3 157.5h0M195.5 158.3h0M195.1 158h0M194 157.7h0M193.5 151.9h0M194 153.6h0M196.5 169.7h0M195.9 168.6h0M195 170.6h0M194.1 170.8h0M195.5 171.4h0M193.6 173.3h0M195.1 172.1h0M189.6 152.3h0M187.9 151.9h0M185.9 168.3h0M184.8 166.3h0M185.7 168.5h0M186.5 166.6h0M185.1 166.7h0M184.5 166.9h0M184.5 156.7h0M185 156.6h0M184.5 156.7h0M186.4 167.3h0M185.8 166.2h0M186.7 167h0M186.1 168.1h0M185.1 167.7h0M185.8 157.8h0M185.7 156.1h0M185.2 156.2h0M185.5 156.7h0M185 157.4h0M186 156.5h0M188.5 168.1h0M189.1 167.8h0M188 168.8h0M188.2 166.4h0M184.1 158.6h0M184.7 156.1h0M182.9 155.6h0M184.5 156.3h0M185.1 155.9h0M183.6 166.4h0M184.6 167.7h0M183.1 166h0M182.9 166.5h0M183.4 165.7h0M182 166.7h0M193.2 160.6h0M194 159.3h0M194.1 160.2h0M187 161.3h0M187.3 160.2h0M192.9 160.3h0M195.1 158.5h0M194.1 158.9h0M194.7 159.9h0M193 164.4h0M194.7 165.6h0M195.1 164.2h0M188.9 165.5h0M189 165.3h0M189 159.2h0M186.7 160.4h0M188.2 158.6h0M189.1 159.4h0M191.1 160.5h0M191.7 158.7h0M190.6 157.7h0M190.5 160.3h0M189.1 159.6h0M193.3 156.8h0M192.1 155.9h0M193 156.3h0M192.3 156.2h0M194.1 163.7h0M194.5 161.6h0M193.5 161.8h0M194.4 161.7h0M195.4 161.2h0M195.3 162h0M166.7 149.8h0M176.9 148.6h0M178.5 150.7h0M166.3 151h0M166.1 159.1h0M170.8 148.2h0M171.8 153h0M168.8 150.1h0M168.6 149.2h0M176.8 150.3h0M193.2 141.4h0M179.9 145.2h0M180.4 141.4h0M197.9 145h0M180.8 140h0M189.5 137.4h0M187.4 141.6h0M196.7 137.9h0M194.9 138.9h0M186.8 140.4h0M187.3 137.4h0M182.6 146.6h0M191.2 144.5h0M197.8 146h0M187.1 137.6h0M175.6 144.4h0M186 146.4h0M188.8 137.1h0M196.2 143h0M186.6 146.8h0M178.5 145h0M191.2 144.9h0M191.8 145.9h0M203.6 168.3h0M201.2 165.1h0M184.9 133.8h0M200.2 143.2h0M200.6 160.8h0M183.6 138h0M178.3 140.6h0M202.2 161.3h0M202.2 144h0M192.5 134.1h0M183.1 133.8h0M202.4 160.2h0M193 138.2h0M202.9 134.5h0M186.7 139.3h0M180.6 146.2h0M200.5 145.5h0M177.9 141.8h0M179.9 145.1h0M203.7 168.2h0M192.6 139.5h0" stroke="#ff0000" stroke-width="1.35" stroke-linecap="round" fill="none"/>
<polyline points="191.5,147.6 186.1,151.4 180.7,155.2 176.3,159 174.1,161.2" fill="none" stroke="#000" stroke-width="1.7" stroke-linecap="round"/>
<polygon points="131.1,106.8 141.3,106.8 136.2,115.6" fill="#0000ff" stroke="#0000a0" stroke-width="0.3"/>
<polygon points="296.3,111.5 306.5,111.5 301.4,120.3" fill="#0000ff" stroke="#0000a0" stroke-width="0.3"/>
<polygon points="144.8,178.2 155,178.2 149.9,187" fill="#0000ff" stroke="#0000a0" stroke-width="0.3"/>
<polygon points="146.6,183.9 156.8,183.9 151.7,192.7" fill="#0000ff" stroke="#0000a0" stroke-width="0.3"/>
<polygon points="158.9,178.2 169.1,178.2 164,187" fill="#0000ff" stroke="#0000a0" stroke-width="0.3"/>
<polygon points="172.5,187.1 182.7,187.1 177.6,195.9" fill="#0000ff" stroke="#0000a0" stroke-width="0.3"/>
<polygon points="177.7,159 187.9,159 182.8,167.8" fill="#0000ff" stroke="#0000a0" stroke-width="0.3"/>
<polygon points="186.7,171 196.9,171 191.8,179.8" fill="#0000ff" stroke="#0000a0" stroke-width="0.3"/>
<polygon points="111.2,196.1 121.4,196.1 116.3,204.9" fill="#0000ff" stroke="#0000a0" stroke-width="0.3"/>
<polygon points="106.3,211.6 116.5,211.6 111.4,220.4" fill="#0000ff" stroke="#0000a0" stroke-width="0.3"/>
<polygon points="137.6,207.1 147.8,207.1 142.7,215.9" fill="#0000ff" stroke="#0000a0" stroke-width="0.3"/>
<polygon points="118.9,233.4 129.1,233.4 124,242.2" fill="#0000ff" stroke="#0000a0" stroke-width="0.3"/>
<polygon points="113.9,253.4 124.1,253.4 119,262.2" fill="#0000ff" stroke="#0000a0" stroke-width="0.3"/>
<polygon points="137.3,244.2 147.5,244.2 142.4,253" fill="#0000ff" stroke="#0000a0" stroke-width="0.3"/>
<polygon points="132.6,259.6 142.8,259.6 137.7,268.4" fill="#0000ff" stroke="#0000a0" stroke-width="0.3"/>
<polygon points="174.9,284.2 185.1,284.2 180,293" fill="#0000ff" stroke="#0000a0" stroke-width="0.3"/>
<polygon points="200.9,275 211.1,275 206,283.8" fill="#0000ff" stroke="#0000a0" stroke-width="0.3"/>
<polygon points="216.4,253.8 226.6,253.8 221.5,262.6" fill="#0000ff" stroke="#0000a0" stroke-width="0.3"/>
<polygon points="248.9,252 259.1,252 254,260.8" fill="#0000ff" stroke="#0000a0" stroke-width="0.3"/>
<polygon points="271.7,233.9 281.9,233.9 276.8,242.7" fill="#0000ff" stroke="#0000a0" stroke-width="0.3"/>
<polygon points="288.7,224.7 298.9,224.7 293.8,233.5" fill="#0000ff" stroke="#0000a0" stroke-width="0.3"/>
<path d="M136 110.4l0.8 0.3" stroke="#000030" stroke-width="1.5" stroke-linecap="round"/>
<rect x="164.4" y="146.6" width="33" height="28.7" fill="none" stroke="#000" stroke-width="1.2"/>
<polyline points="80.2,175.5 130.6,189.6" stroke="#000" stroke-width="1.1" fill="none"/>
<polyline points="172.6,177.4 190.6,188.3" stroke="#000" stroke-width="1.1" fill="none"/>
<polyline points="101.2,245.1 117.5,237.4" stroke="#000" stroke-width="1.1" fill="none"/>
<text x="47.9" y="171.3" font-size="15.3" style="font-family:'Liberation Sans',sans-serif">Wajima</text>
<text x="198.7" y="195.6" font-size="15.5" style="font-family:'Liberation Sans',sans-serif">Suzu</text>
<text x="57.4" y="250.6" font-size="15" style="font-family:'Liberation Sans',sans-serif">Shika</text>
<text x="57.6" y="35.6" font-size="19" style="font-family:'Liberation Sans',sans-serif">(a)</text>
<rect x="45.4" y="6.1" width="291.2" height="317" fill="none" stroke="#000" stroke-width="1.3"/>
<path d="M57.9 6.1v-2M57.9 323.1v2M70.5 6.1v-2M70.5 323.1v2M83.2 6.1v-4M83.2 323.1v4M95.9 6.1v-2M95.9 323.1v2M108.5 6.1v-2M108.5 323.1v2M121.2 6.1v-2M121.2 323.1v2M133.9 6.1v-2M133.9 323.1v2M146.5 6.1v-4M146.5 323.1v4M159.2 6.1v-2M159.2 323.1v2M171.9 6.1v-2M171.9 323.1v2M184.5 6.1v-2M184.5 323.1v2M197.2 6.1v-2M197.2 323.1v2M209.9 6.1v-4M209.9 323.1v4M222.5 6.1v-2M222.5 323.1v2M235.2 6.1v-2M235.2 323.1v2M247.8 6.1v-2M247.8 323.1v2M260.5 6.1v-2M260.5 323.1v2M273.2 6.1v-4M273.2 323.1v4M285.8 6.1v-2M285.8 323.1v2M298.5 6.1v-2M298.5 323.1v2M311.2 6.1v-2M311.2 323.1v2M323.8 6.1v-2M323.8 323.1v2M336.5 6.1v-4M336.5 323.1v4M45.4 6.1h-4M336.6 6.1h4M45.4 22.2h-2M336.6 22.2h2M45.4 38.2h-2M336.6 38.2h2M45.4 54.2h-2M336.6 54.2h2M45.4 70.2h-2M336.6 70.2h2M45.4 86.2h-4M336.6 86.2h4M45.4 102.1h-2M336.6 102.1h2M45.4 118h-2M336.6 118h2M45.4 133.9h-2M336.6 133.9h2M45.4 149.8h-2M336.6 149.8h2M45.4 165.7h-4M336.6 165.7h4M45.4 181.5h-2M336.6 181.5h2M45.4 197.3h-2M336.6 197.3h2M45.4 213.1h-2M336.6 213.1h2M45.4 228.9h-2M336.6 228.9h2M45.4 244.6h-4M336.6 244.6h4M45.4 260.4h-2M336.6 260.4h2M45.4 276.1h-2M336.6 276.1h2M45.4 291.8h-2M336.6 291.8h2M45.4 307.4h-2M336.6 307.4h2M45.4 323.1h-4M336.6 323.1h4" stroke="#000" stroke-width="0.7" fill="none"/>
<text x="36.9" y="11" font-size="12.2" text-anchor="end" style="font-family:'Liberation Sans',sans-serif">38.5˚N</text>
<text x="36.9" y="91.1" font-size="12.2" text-anchor="end" style="font-family:'Liberation Sans',sans-serif">38.0˚N</text>
<text x="36.9" y="170.6" font-size="12.2" text-anchor="end" style="font-family:'Liberation Sans',sans-serif">37.5˚N</text>
<text x="36.9" y="249.5" font-size="12.2" text-anchor="end" style="font-family:'Liberation Sans',sans-serif">37.0˚N</text>
<text x="36.9" y="328" font-size="12.2" text-anchor="end" style="font-family:'Liberation Sans',sans-serif">36.5˚N</text>
<text x="83.5" y="341.3" font-size="12.3" text-anchor="middle" style="font-family:'Liberation Sans',sans-serif">136.5˚E</text>
<text x="146.8" y="341.3" font-size="12.3" text-anchor="middle" style="font-family:'Liberation Sans',sans-serif">137.0˚E</text>
<text x="210.2" y="341.3" font-size="12.3" text-anchor="middle" style="font-family:'Liberation Sans',sans-serif">137.5˚E</text>
<text x="273.5" y="341.3" font-size="12.3" text-anchor="middle" style="font-family:'Liberation Sans',sans-serif">138.0˚E</text>
<text x="336.8" y="341.3" font-size="12.3" text-anchor="middle" style="font-family:'Liberation Sans',sans-serif">138.5˚E</text>
</g>
<g>
<rect x="386.1" y="283.9" width="1" height="39.4" fill="rgb(235,235,235)"/>
<rect x="387.1" y="283.9" width="2.5" height="39.4" fill="rgb(160,160,160)"/>
<rect x="389.6" y="283.9" width="3.1" height="39.4" fill="rgb(250,250,250)"/>
<rect x="392.7" y="283.9" width="3.2" height="39.4" fill="rgb(150,150,150)"/>
<rect x="395.9" y="283.9" width="1.8" height="39.4" fill="rgb(195,195,195)"/>
<rect x="397.7" y="283.9" width="1.3" height="39.4" fill="rgb(140,140,140)"/>
<rect x="399" y="283.9" width="1.9" height="39.4" fill="rgb(240,240,240)"/>
<rect x="400.9" y="283.9" width="4.3" height="39.4" fill="rgb(140,140,140)"/>
<rect x="405.2" y="283.9" width="1.3" height="39.4" fill="rgb(185,185,185)"/>
<rect x="406.5" y="283.9" width="11.2" height="39.4" fill="rgb(122,122,122)"/>
<rect x="417.7" y="283.9" width="1.3" height="39.4" fill="rgb(170,170,170)"/>
<rect x="419" y="283.9" width="2.5" height="39.4" fill="rgb(125,125,125)"/>
<rect x="421.5" y="283.9" width="18.7" height="39.4" fill="rgb(103,103,103)"/>
<path d="M393.7 228.8V283.9M387.6 236.7V283.9M393.7 240.6V283.9M393.7 244.6V283.9M393.7 248.5V283.9M398.3 248.5V283.9M393.7 252.4V283.9M403.5 244.6V283.9M404.1 248.5V283.9M404.6 252.4V283.9M410.4 236.7V283.9M413 236.7V283.9M410.2 244.6V283.9M413 244.6V283.9M410.4 248.5V283.9M409.5 252.4V283.9M397.9 213.1V283.9M404.5 221V283.9M409.3 197.3V283.9M419.8 252.4V283.9M422.1 205.2V283.9M425.5 201.3V283.9M437.1 201.3V283.9M429.1 213.1V283.9M435.1 213.1V283.9M434.3 193.4V283.9M438.7 209.1V283.9M440 209.1V283.9M434 217V283.9M435.3 217V283.9M436.6 217V283.9M437.9 217V283.9M428.5 221V283.9M429.8 221V283.9M439.4 232.8V283.9M421.7 236.7V283.9M423 236.7V283.9M424.3 236.7V283.9M436 236.7V283.9M437.3 236.7V283.9M438.6 236.7V283.9M439.9 236.7V283.9M436 240.6V283.9M437.3 240.6V283.9M438.6 240.6V283.9M439.9 240.6V283.9M427.9 244.6V283.9M429.2 244.6V283.9M430.5 244.6V283.9M431.8 244.6V283.9M433.1 244.6V283.9M434.4 244.6V283.9M435.7 244.6V283.9M437 244.6V283.9M438.3 244.6V283.9M439.6 244.6V283.9M427.9 248.5V283.9M429.2 248.5V283.9M430.5 248.5V283.9M431.8 248.5V283.9M433.1 248.5V283.9M434.4 248.5V283.9M435.7 248.5V283.9M437 248.5V283.9M438.3 248.5V283.9M439.6 248.5V283.9M425.8 252.4V283.9M427.1 252.4V283.9M428.4 252.4V283.9M429.7 252.4V283.9M431 252.4V283.9M432.3 252.4V283.9M433.6 252.4V283.9M434.9 252.4V283.9M436.2 252.4V283.9M437.5 252.4V283.9M438.8 252.4V283.9" stroke="#999" stroke-width="0.6" fill="none"/>
<path d="M440.5 276.1V323.3M441.5 260.3V323.3M442.5 252.4V323.3M443.5 248.5V323.3M444.5 256.4V323.3M445.5 248.5V323.3M446.5 248.5V323.3M447.5 256.4V323.3M448.5 256.4V323.3M449.5 260.3V323.3M450.5 272.1V323.3M451.5 276.1V323.3M452.5 256.4V323.3M453.5 256.4V323.3M454.5 280V323.3M455.5 260.3V323.3M456.5 268.2V323.3M457.5 248.5V323.3M458.5 248.5V323.3M459.5 260.3V323.3M460.5 280V323.3M461.5 240.6V323.3M462.5 268.2V323.3M463.5 280V323.3M464.5 268.2V323.3M465.5 256.4V323.3M466.5 244.6V323.3M467.5 260.3V323.3M468.5 276.1V323.3M469.5 280V323.3M470.5 252.4V323.3M471.5 244.6V323.3M472.5 244.6V323.3M473.5 256.4V323.3M474.5 236.7V323.3M475.5 260.3V323.3M476.5 260.3V323.3M477.5 221V323.3M478.5 260.3V323.3M479.5 272.1V323.3M480.5 272.1V323.3M481.5 272.1V323.3M482.5 244.6V323.3M483.5 248.5V323.3M484.5 252.4V323.3M485.5 244.6V323.3M486.5 244.6V323.3M487.5 260.3V323.3M488.5 256.4V323.3M489.5 260.3V323.3M490.5 240.6V323.3M491.5 252.4V323.3M492.5 276.1V323.3M493.5 264.3V323.3M494.5 260.3V323.3M495.5 264.3V323.3M496.5 256.4V323.3M497.5 248.5V323.3M498.5 256.4V323.3M499.5 283.9V323.3M500.5 272.1V323.3M501.5 276.1V323.3M502.5 264.3V323.3M503.5 236.7V323.3M504.5 260.3V323.3M505.5 248.5V323.3M506.5 244.6V323.3M507.5 240.6V323.3M508.5 244.6V323.3M509.5 252.4V323.3M510.5 224.9V323.3M511.5 252.4V323.3M512.5 244.6V323.3M513.5 272.1V323.3M514.5 256.4V323.3M515.5 232.8V323.3M516.5 248.5V323.3M517.5 264.3V323.3M518.5 260.3V323.3M519.5 260.3V323.3M520.5 264.3V323.3M521.5 268.2V323.3M522.5 272.1V323.3M523.5 260.3V323.3M524.5 228.8V323.3M525.5 209.1V323.3M526.5 283.9V323.3M527.5 252.4V323.3M528.5 260.3V323.3M529.5 264.3V323.3M530.5 283.9V323.3M531.5 264.3V323.3M532.5 260.3V323.3M533.5 272.1V323.3M534.5 244.6V323.3M535.5 276.1V323.3M536.5 276.1V323.3M537.5 260.3V323.3M538.5 256.4V323.3M539.5 272.1V323.3M540.5 248.5V323.3M541.5 260.3V323.3M542.5 252.4V323.3M543.5 232.8V323.3M544.5 268.2V323.3M545.5 260.3V323.3M546.5 260.3V323.3M547.5 244.6V323.3M548.5 256.4V323.3M549.5 256.4V323.3M550.5 268.2V323.3M551.5 248.5V323.3M552.5 272.1V323.3M553.5 268.2V323.3M554.5 276.1V323.3M555.5 256.4V323.3M556.5 252.4V323.3M557.5 252.4V323.3M558.5 268.2V323.3M559.5 256.4V323.3M560.5 260.3V323.3M561.5 264.3V323.3M562.5 260.3V323.3M563.5 260.3V323.3M564.5 256.4V323.3M565.5 248.5V323.3M566.5 232.8V323.3M567.5 276.1V323.3M568.5 268.2V323.3M569.5 280V323.3M570.5 244.6V323.3M571.5 260.3V323.3M572.5 248.5V323.3M573.5 280V323.3M574.5 197.3V323.3M575.5 209.1V323.3M576.5 240.6V323.3M577.5 240.6V323.3M578.5 224.9V323.3M579.5 240.6V323.3M580.5 240.6V323.3M581.5 244.6V323.3M582.5 244.6V323.3M583.5 256.4V323.3M584.5 256.4V323.3M585.5 256.4V323.3M586.5 256.4V323.3M587.5 252.4V323.3M588.5 224.9V323.3M589.5 248.5V323.3M590.5 205.2V323.3M591.5 252.4V323.3M592.5 256.4V323.3M593.5 264.3V323.3M594.5 264.3V323.3M595.5 280V323.3M596.5 256.4V323.3M597.5 252.4V323.3M598.5 244.6V323.3M599.5 272.1V323.3M600.5 280V323.3M601.5 248.5V323.3M602.5 256.4V323.3M603.5 264.3V323.3M604.5 260.3V323.3M605.5 252.4V323.3M606.5 248.5V323.3M607.5 256.4V323.3M608.5 268.2V323.3M610.5 264.3V323.3M611.5 283.9V323.3M612.5 272.1V323.3M613.5 260.3V323.3M614.5 236.7V323.3M615.5 280V323.3M616.5 276.1V323.3M617.5 268.2V323.3M618.5 256.4V323.3M619.5 260.3V323.3M620.5 260.3V323.3M621.5 248.5V323.3M622.5 252.4V323.3M623.5 260.3V323.3M624.5 280V323.3" stroke="rgb(104,104,104)" stroke-width="1" fill="none"/>
<path d="M440.5 252.4V276.1M441.5 248.5V260.3M442.5 224.9V252.4M443.5 240.6V248.5M444.5 221V256.4M445.5 244.6V248.5M446.5 209.1V248.5M447.5 248.5V256.4M448.5 252.4V256.4M449.5 236.7V260.3M450.5 256.4V272.1M451.5 252.4V276.1M452.5 236.7V256.4M453.5 240.6V256.4M454.5 272.1V280M455.5 256.4V260.3M456.5 240.6V268.2M457.5 244.6V248.5M458.5 232.8V248.5M459.5 248.5V260.3M460.5 272.1V280M461.5 217V240.6M462.5 260.3V268.2M463.5 228.8V280M464.5 256.4V268.2M465.5 248.5V256.4M467.5 248.5V260.3M468.5 248.5V276.1M469.5 256.4V280M470.5 240.6V252.4M471.5 224.9V244.6M472.5 236.7V244.6M473.5 240.6V256.4M474.5 232.8V236.7M475.5 236.7V260.3M476.5 252.4V260.3M478.5 252.4V260.3M479.5 264.3V272.1M481.5 248.5V272.1M482.5 232.8V244.6M483.5 244.6V248.5M484.5 244.6V252.4M485.5 217V244.6M486.5 217V244.6M487.5 244.6V260.3M488.5 248.5V256.4M489.5 244.6V260.3M490.5 224.9V240.6M491.5 244.6V252.4M492.5 260.3V276.1M493.5 248.5V264.3M494.5 252.4V260.3M495.5 256.4V264.3M496.5 248.5V256.4M497.5 244.6V248.5M498.5 252.4V256.4M499.5 260.3V283.9M500.5 256.4V272.1M501.5 240.6V276.1M503.5 228.8V236.7M504.5 236.7V260.3M505.5 232.8V248.5M506.5 197.3V244.6M507.5 213.1V240.6M508.5 228.8V244.6M509.5 228.8V252.4M510.5 221V224.9M511.5 248.5V252.4M512.5 209.1V244.6M513.5 248.5V272.1M514.5 236.7V256.4M516.5 232.8V248.5M517.5 244.6V264.3M519.5 232.8V260.3M520.5 244.6V264.3M521.5 248.5V268.2M522.5 244.6V272.1M523.5 244.6V260.3M524.5 217V228.8M525.5 205.2V209.1M526.5 272.1V283.9M527.5 236.7V252.4M528.5 197.3V260.3M529.5 236.7V264.3M530.5 276.1V283.9M531.5 252.4V264.3M532.5 252.4V260.3M533.5 244.6V272.1M536.5 240.6V276.1M537.5 252.4V260.3M538.5 252.4V256.4M539.5 244.6V272.1M540.5 240.6V248.5M541.5 244.6V260.3M542.5 240.6V252.4M543.5 217V232.8M544.5 256.4V268.2M545.5 252.4V260.3M546.5 252.4V260.3M547.5 217V244.6M548.5 244.6V256.4M549.5 221V256.4M550.5 244.6V268.2M551.5 217V248.5M552.5 264.3V272.1M553.5 260.3V268.2M554.5 264.3V276.1M555.5 244.6V256.4M557.5 232.8V252.4M558.5 236.7V268.2M559.5 217V256.4M560.5 252.4V260.3M561.5 256.4V264.3M562.5 252.4V260.3M563.5 252.4V260.3M564.5 236.7V256.4M565.5 236.7V248.5M566.5 224.9V232.8M567.5 256.4V276.1M568.5 221V268.2M569.5 248.5V280M570.5 236.7V244.6M571.5 244.6V260.3M572.5 244.6V248.5M573.5 252.4V280M574.5 193.4V197.3M575.5 201.3V209.1M576.5 232.8V240.6M577.5 232.8V240.6M578.5 213.1V224.9M579.5 232.8V240.6M580.5 221V240.6M581.5 232.8V244.6M582.5 224.9V244.6M583.5 236.7V256.4M584.5 236.7V256.4M585.5 252.4V256.4M586.5 244.6V256.4M587.5 248.5V252.4M588.5 217V224.9M589.5 240.6V248.5M591.5 236.7V252.4M592.5 244.6V256.4M593.5 256.4V264.3M594.5 256.4V264.3M595.5 244.6V280M596.5 248.5V256.4M597.5 236.7V252.4M598.5 228.8V244.6M599.5 244.6V272.1M600.5 276.1V280M601.5 236.7V248.5M602.5 252.4V256.4M603.5 260.3V264.3M604.5 256.4V260.3M605.5 244.6V252.4M606.5 240.6V248.5M607.5 252.4V256.4M608.5 244.6V268.2M609.5 256.4V323.3M610.5 260.3V264.3M611.5 280V283.9M612.5 264.3V272.1M613.5 244.6V260.3M614.5 221V236.7M615.5 236.7V280M616.5 236.7V276.1M617.5 256.4V268.2M618.5 236.7V256.4M620.5 252.4V260.3M621.5 228.8V248.5M623.5 252.4V260.3M624.5 256.4V280" stroke="rgb(112,112,112)" stroke-width="1" fill="none"/>
<path d="M441.5 236.7V248.5M443.5 236.7V240.6M445.5 236.7V244.6M448.5 228.8V252.4M449.5 217V236.7M451.5 248.5V252.4M452.5 217V236.7M454.5 252.4V272.1M455.5 228.8V256.4M456.5 236.7V240.6M458.5 228.8V232.8M459.5 240.6V248.5M460.5 228.8V272.1M462.5 228.8V260.3M463.5 217V228.8M464.5 244.6V256.4M466.5 232.8V244.6M467.5 244.6V248.5M468.5 221V248.5M470.5 217V240.6M471.5 221V224.9M472.5 228.8V236.7M474.5 228.8V232.8M475.5 221V236.7M476.5 244.6V252.4M478.5 236.7V252.4M479.5 260.3V264.3M480.5 260.3V272.1M482.5 221V232.8M483.5 228.8V244.6M484.5 240.6V244.6M487.5 217V244.6M488.5 244.6V248.5M490.5 213.1V224.9M491.5 236.7V244.6M493.5 232.8V248.5M494.5 240.6V252.4M495.5 244.6V256.4M497.5 224.9V244.6M498.5 240.6V252.4M499.5 236.7V260.3M502.5 256.4V264.3M503.5 224.9V228.8M505.5 221V232.8M507.5 193.4V213.1M509.5 224.9V228.8M510.5 217V221M511.5 232.8V248.5M513.5 217V248.5M514.5 217V236.7M515.5 224.9V232.8M517.5 236.7V244.6M518.5 221V260.3M519.5 221V232.8M521.5 240.6V248.5M522.5 236.7V244.6M523.5 240.6V244.6M525.5 201.3V205.2M526.5 244.6V272.1M530.5 248.5V276.1M531.5 240.6V252.4M533.5 236.7V244.6M536.5 224.9V240.6M540.5 221V240.6M541.5 221V244.6M542.5 228.8V240.6M544.5 248.5V256.4M545.5 248.5V252.4M546.5 236.7V252.4M548.5 236.7V244.6M550.5 228.8V244.6M552.5 252.4V264.3M553.5 244.6V260.3M554.5 248.5V264.3M556.5 240.6V252.4M560.5 228.8V252.4M561.5 224.9V256.4M562.5 248.5V252.4M565.5 232.8V236.7M566.5 217V224.9M568.5 209.1V221M569.5 236.7V248.5M570.5 228.8V236.7M572.5 232.8V244.6M573.5 244.6V252.4M575.5 197.3V201.3M576.5 224.9V232.8M577.5 224.9V232.8M579.5 224.9V232.8M580.5 209.1V221M581.5 224.9V232.8M583.5 217V236.7M584.5 217V236.7M585.5 228.8V252.4M587.5 228.8V248.5M588.5 213.1V217M589.5 197.3V240.6M591.5 232.8V236.7M592.5 236.7V244.6M593.5 224.9V256.4M596.5 236.7V248.5M597.5 213.1V236.7M600.5 244.6V276.1M604.5 244.6V256.4M605.5 213.1V244.6M607.5 236.7V252.4M608.5 240.6V244.6M609.5 236.7V256.4M611.5 264.3V280M612.5 240.6V264.3M613.5 224.9V244.6M616.5 224.9V236.7M618.5 221V236.7M619.5 248.5V260.3M620.5 248.5V252.4M622.5 236.7V252.4M623.5 236.7V252.4M624.5 232.8V256.4" stroke="rgb(128,128,128)" stroke-width="1" fill="none"/>
<path d="M440.5 232.8V252.4M442.5 205.2V224.9M446.5 197.3V209.1M450.5 248.5V256.4M453.5 236.7V240.6M457.5 209.1V244.6M461.5 213.1V217M465.5 244.6V248.5M469.5 240.6V256.4M473.5 213.1V240.6M481.5 224.9V248.5M485.5 177.7V217M489.5 232.8V244.6M492.5 252.4V260.3M496.5 228.8V248.5M500.5 217V256.4M504.5 217V236.7M508.5 221V228.8M512.5 205.2V209.1M516.5 201.3V232.8M520.5 228.8V244.6M528.5 189.5V197.3M532.5 240.6V252.4M535.5 201.3V276.1M539.5 217V244.6M543.5 181.6V217M547.5 205.2V217M551.5 193.4V217M555.5 236.7V244.6M559.5 209.1V217M563.5 244.6V252.4M567.5 252.4V256.4M571.5 232.8V244.6M574.5 189.5V193.4M578.5 209.1V213.1M582.5 217V224.9M586.5 224.9V244.6M594.5 236.7V256.4M602.5 217V252.4M606.5 213.1V240.6M610.5 209.1V260.3M614.5 209.1V221M617.5 224.9V256.4M621.5 217V228.8" stroke="rgb(144,144,144)" stroke-width="1" fill="none"/>
<path d="M441.5 185.5V236.7M443.5 232.8V236.7M445.5 224.9V236.7M447.5 240.6V248.5M448.5 197.3V228.8M451.5 240.6V248.5M452.5 185.5V217M454.5 240.6V252.4M455.5 197.3V228.8M456.5 228.8V236.7M458.5 181.6V228.8M459.5 236.7V240.6M460.5 217V228.8M463.5 205.2V217M464.5 224.9V244.6M466.5 224.9V232.8M467.5 240.6V244.6M468.5 213.1V221M471.5 185.5V221M474.5 217V228.8M475.5 213.1V221M476.5 228.8V244.6M478.5 232.8V236.7M479.5 256.4V260.3M480.5 224.9V260.3M483.5 224.9V228.8M484.5 228.8V240.6M486.5 209.1V217M487.5 205.2V217M488.5 228.8V244.6M490.5 193.4V213.1M491.5 193.4V236.7M494.5 236.7V240.6M495.5 201.3V244.6M498.5 228.8V240.6M499.5 228.8V236.7M501.5 236.7V240.6M502.5 252.4V256.4M503.5 217V224.9M506.5 165.8V197.3M507.5 161.9V193.4M509.5 209.1V224.9M510.5 205.2V217M511.5 224.9V232.8M513.5 213.1V217M514.5 201.3V217M515.5 217V224.9M517.5 228.8V236.7M518.5 213.1V221M519.5 217V221M521.5 224.9V240.6M522.5 213.1V236.7M523.5 236.7V240.6M525.5 197.3V201.3M526.5 240.6V244.6M527.5 213.1V236.7M529.5 197.3V236.7M530.5 236.7V248.5M531.5 205.2V240.6M533.5 228.8V236.7M534.5 240.6V244.6M536.5 217V224.9M537.5 248.5V252.4M538.5 244.6V252.4M540.5 169.8V221M541.5 193.4V221M542.5 217V228.8M544.5 213.1V248.5M546.5 224.9V236.7M549.5 217V221M550.5 205.2V228.8M552.5 236.7V252.4M553.5 224.9V244.6M554.5 240.6V248.5M556.5 232.8V240.6M557.5 224.9V232.8M558.5 221V236.7M560.5 224.9V228.8M562.5 244.6V248.5M564.5 224.9V236.7M565.5 224.9V232.8M566.5 213.1V217M568.5 205.2V209.1M569.5 232.8V236.7M570.5 213.1V228.8M572.5 213.1V232.8M573.5 209.1V244.6M575.5 138.3V197.3M576.5 213.1V224.9M577.5 221V224.9M579.5 213.1V224.9M580.5 189.5V209.1M581.5 193.4V224.9M583.5 197.3V217M585.5 221V228.8M587.5 224.9V228.8M588.5 205.2V213.1M589.5 181.6V197.3M591.5 209.1V232.8M595.5 232.8V244.6M596.5 221V236.7M597.5 209.1V213.1M599.5 240.6V244.6M600.5 221V244.6M601.5 228.8V236.7M603.5 256.4V260.3M604.5 189.5V244.6M605.5 209.1V213.1M607.5 209.1V236.7M608.5 213.1V240.6M609.5 224.9V236.7M611.5 260.3V264.3M612.5 228.8V240.6M615.5 228.8V236.7M616.5 205.2V224.9M618.5 217V221M619.5 221V248.5M622.5 232.8V236.7M623.5 177.7V236.7M624.5 205.2V232.8" stroke="rgb(160,160,160)" stroke-width="1" fill="none"/>
<path d="M440.5 193.4V232.8M442.5 197.3V205.2M446.5 158V197.3M450.5 232.8V248.5M453.5 193.4V236.7M461.5 181.6V213.1M465.5 232.8V244.6M469.5 189.5V240.6M473.5 205.2V213.1M477.5 217V221M481.5 205.2V224.9M485.5 134.4V177.7M489.5 224.9V232.8M492.5 248.5V252.4M496.5 161.9V228.8M500.5 161.9V217M504.5 209.1V217M508.5 209.1V221M512.5 201.3V205.2M516.5 193.4V201.3M520.5 209.1V228.8M524.5 201.3V217M528.5 173.7V189.5M532.5 224.9V240.6M539.5 197.3V217M543.5 161.9V181.6M547.5 181.6V205.2M551.5 185.5V193.4M555.5 217V236.7M559.5 161.9V209.1M563.5 221V244.6M567.5 224.9V252.4M571.5 224.9V232.8M574.5 67.4V189.5M578.5 165.8V209.1M582.5 173.7V217M586.5 197.3V224.9M590.5 201.3V205.2M594.5 197.3V236.7M598.5 193.4V228.8M602.5 205.2V217M606.5 197.3V213.1M610.5 193.4V209.1M614.5 205.2V209.1M617.5 217V224.9M621.5 197.3V217" stroke="rgb(192,192,192)" stroke-width="1" fill="none"/>
<path d="M441.5 158V185.5M443.5 177.7V232.8M444.5 217V221M445.5 213.1V224.9M447.5 232.8V240.6M448.5 122.6V197.3M449.5 205.2V217M451.5 209.1V240.6M452.5 154V185.5M454.5 197.3V240.6M455.5 165.8V197.3M456.5 193.4V228.8M458.5 169.8V181.6M459.5 165.8V236.7M460.5 209.1V217M462.5 217V228.8M463.5 197.3V205.2M464.5 221V224.9M467.5 205.2V240.6M468.5 189.5V213.1M470.5 154V217M471.5 181.6V185.5M472.5 213.1V228.8M474.5 181.6V217M478.5 228.8V232.8M479.5 161.9V256.4M480.5 209.1V224.9M482.5 213.1V221M483.5 205.2V224.9M484.5 189.5V228.8M486.5 189.5V209.1M487.5 197.3V205.2M488.5 154V228.8M490.5 154V193.4M491.5 158V193.4M493.5 228.8V232.8M494.5 193.4V236.7M497.5 201.3V224.9M498.5 217V228.8M499.5 173.7V228.8M501.5 224.9V236.7M502.5 240.6V252.4M503.5 169.8V217M505.5 185.5V221M506.5 110.7V165.8M507.5 154V161.9M509.5 185.5V209.1M510.5 201.3V205.2M511.5 217V224.9M513.5 189.5V213.1M514.5 193.4V201.3M515.5 189.5V217M517.5 217V228.8M518.5 161.9V213.1M519.5 189.5V217M521.5 193.4V224.9M522.5 201.3V213.1M523.5 213.1V236.7M525.5 185.5V197.3M526.5 213.1V240.6M527.5 201.3V213.1M529.5 193.4V197.3M530.5 205.2V236.7M531.5 201.3V205.2M534.5 224.9V240.6M536.5 197.3V217M537.5 236.7V248.5M538.5 158V244.6M540.5 158V169.8M541.5 150.1V193.4M542.5 213.1V217M544.5 197.3V213.1M545.5 169.8V248.5M546.5 201.3V224.9M549.5 146.2V217M550.5 161.9V205.2M552.5 224.9V236.7M553.5 209.1V224.9M554.5 221V240.6M556.5 224.9V232.8M557.5 213.1V224.9M558.5 197.3V221M560.5 165.8V224.9M561.5 201.3V224.9M562.5 221V244.6M564.5 213.1V224.9M565.5 197.3V224.9M566.5 161.9V213.1M568.5 193.4V205.2M569.5 209.1V232.8M570.5 193.4V213.1M572.5 201.3V213.1M573.5 197.3V209.1M575.5 130.4V138.3M576.5 126.5V213.1M577.5 217V221M579.5 142.2V213.1M580.5 177.7V189.5M581.5 189.5V193.4M583.5 181.6V197.3M584.5 209.1V217M585.5 205.2V221M587.5 189.5V224.9M588.5 165.8V205.2M589.5 173.7V181.6M591.5 201.3V209.1M592.5 221V236.7M593.5 189.5V224.9M595.5 189.5V232.8M596.5 217V221M597.5 189.5V209.1M599.5 201.3V240.6M600.5 217V221M601.5 221V228.8M603.5 181.6V256.4M604.5 181.6V189.5M605.5 154V209.1M607.5 189.5V209.1M608.5 209.1V213.1M609.5 201.3V224.9M611.5 181.6V260.3M612.5 217V228.8M613.5 189.5V224.9M616.5 201.3V205.2M618.5 205.2V217M619.5 197.3V221M620.5 213.1V248.5M622.5 224.9V232.8M623.5 173.7V177.7M624.5 197.3V205.2" stroke="rgb(208,208,208)" stroke-width="1" fill="none"/>
<path d="M448.6 122.6V189.5M485.1 134.4V189.5M574.6 67.4V189.5M574.6 91.1V189.5M574.6 110.7V189.5M507 110.7V189.5M507 126.5V189.5M574.6 126.5V189.5M576 126.5V189.5M575.6 130.4V189.5M575 138.3V189.5M579.7 142.2V189.5M549.4 146.2V189.5M541.6 150.1V189.5M574.6 150.1V189.5M575 154V189.5M575 158V189.5M431.3 161.9V189.5M434.5 169.8V189.5M441.7 158V189.5M446.8 158V189.5M452.2 154V189.5M455.5 165.8V189.5M459 165.8V189.5M458.7 169.8V189.5M452.2 173.7V189.5M443.2 177.7V189.5M439.7 181.6V189.5M458.4 181.6V189.5M461.4 181.6V189.5M441.5 185.5V189.5M448.5 185.5V189.5M452.5 185.5V189.5M458.7 185.5V189.5M470.2 154V189.5M479.1 161.9V189.5M485.1 169.8V189.5M485.4 177.7V189.5M485.4 181.6V189.5M488.1 154V189.5M490.8 154V189.5M491.9 158V189.5M490.8 165.8V189.5M490.8 177.7V189.5M496.7 161.9V189.5M500.6 161.9V189.5M499.5 173.7V189.5M503.6 169.8V189.5M506.2 165.8V189.5M507.4 161.9V189.5M507.1 154V189.5M518.8 161.9V189.5M518.8 169.8V189.5M528.2 173.7V189.5M471 181.6V189.5M474.2 181.6V189.5M471.8 185.5V189.5M505.1 185.5V189.5M507.1 185.5V189.5M509.2 185.5V189.5M525.2 185.5V189.5M538.2 158V189.5M540.9 158V189.5M543.4 161.9V189.5M550.8 161.9V189.5M540.2 169.8V189.5M545.3 169.8V189.5M549.5 169.8V189.5M543.8 181.6V189.5M547.8 181.6V189.5M543.8 185.5V189.5M551.1 185.5V189.5M559.3 161.9V189.5M560.1 165.8V189.5M560.1 185.5V189.5M566.7 161.9V189.5M566.7 173.7V189.5M566.7 185.5V189.5M578.3 165.8V189.5M579.7 173.7V189.5M582.1 173.7V189.5M580.1 177.7V189.5M583 181.6V189.5M588.2 165.8V189.5M589.8 173.7V189.5M589.2 181.6V189.5M605.3 154V189.5M605.3 177.7V189.5M603.1 181.6V189.5M605 181.6V189.5M611.2 181.6V189.5M623.6 173.7V189.5M623 177.7V189.5M578.3 173.7V189.5" stroke="#b4b4b4" stroke-width="0.8" fill="none"/>
<path d="M440.7 283.9H531.6M533.5 283.9H624.8M440.5 280H500.4M502.5 280H517.7M519.1 280H604.1M605.6 280H617.2M618.6 280H622.2M624.1 280H624.8M440.7 276.1H469.8M471.7 276.1H514.9M517 276.1H601.1M602.6 276.1H607M608.5 276.1H623.5M440.3 272.1H471.7M473.2 272.1H519.1M520.6 272.1H545.1M546.5 272.1H558.8M561.3 272.1H615.1M617 272.1H624.5M440.3 268.2H445.8M447.3 268.2h0M448.7 268.2H455.1M456.5 268.2H465.6M467.3 268.2H471.9M474 268.2H476.3M477.8 268.2H488.2M489.8 268.2h0M491.3 268.2H501M502.7 268.2H512.6M514.1 268.2H515.8M517.9 268.2H526.3M528 268.2H532.2M534.9 268.2H562.6M564.5 268.2H599.9M601.4 268.2H606.6M608.5 268.2h0M610.2 268.2h0M612.3 268.2H612.7M615.7 268.2H622.4M624.3 268.2h0M441.4 264.3H451.5M453.6 264.3H461.8M463.3 264.3H485.2M486.7 264.3H494.3M496 264.3H500.6M502.1 264.3H505.4M506.9 264.3H521.5M522.9 264.3H525.3M526.9 264.3H528.2M529.9 264.3H531.8M533.9 264.3H539.4M541.1 264.3H541.3M543 264.3h0M544.4 264.3H550.3M552 264.3H556M559.2 264.3H581.3M582.8 264.3H587.4M589.3 264.3H592.3M594 264.3H598.2M599.7 264.3H601.8M603.2 264.3H603.7M605.8 264.3H611M612.7 264.3h0M614.4 264.3h0M616.3 264.3H621.6M623.1 264.3H624.3M440.5 260.3H443.3M444.7 260.3H450.4M453.4 260.3H457.4M459.7 260.3H459.9M461.6 260.3H462.4M464.5 260.3H467.7M469.8 260.3H480.8M482.2 260.3H487.3M489.2 260.3H489.4M491.7 260.3H492.4M494.3 260.3H501.9M504.4 260.3H511.1M513.2 260.3H513.4M516 260.3H516.8M518.5 260.3H519.6M521 260.3h0M522.5 260.3H529.7M532.2 260.3H535.2M536.6 260.3H539M541.1 260.3H547M549.1 260.3H553.9M555.6 260.3H557.9M559.8 260.3H565.5M567.6 260.3h0M569.1 260.3H579.2M580.7 260.3H591.9M593.6 260.3h0M595.4 260.3h0M597.8 260.3h0M599.5 260.3h0M602.6 260.3H607.9M610 260.3H614.2M616.7 260.3H624.3M440.3 256.4H456.1M457.6 256.4H458.6M461.2 256.4h0M463.1 256.4H470M473.8 256.4H487.5M489 256.4h0M490.5 256.4H493.8M495.3 256.4H503.8M505.6 256.4H511.1M513.4 256.4H517M520.8 256.4H523.8M527.1 256.4H530.7M532.2 256.4h0M534.5 256.4h0M536.2 256.4H540M542.5 256.4H546.8M548.7 256.4H552.4M554.6 256.4H562.1M563.6 256.4H564.3M565.7 256.4H567.2M569.5 256.4H572.3M573.7 256.4H589.8M591.2 256.4H598.4M599.9 256.4H600.1M602.8 256.4H609.2M613.6 256.4h0M617.2 256.4H618.6M620.3 256.4H621.4M623.1 256.4H624.8M440.3 252.4h0M441.8 252.4H443.5M445.1 252.4H445.4M448.3 252.4H448.7M451.3 252.4h0M454.6 252.4h0M456.1 252.4H457M459.1 252.4h0M461.6 252.4H462.4M465.6 252.4H465.8M467.3 252.4H467.9M470.4 252.4H470.7M472.1 252.4h0M475.3 252.4h0M477 252.4H478M482.5 252.4H496.4M498.5 252.4H499.3M501.9 252.4H503.5M506.7 252.4H506.9M509.4 252.4H510.1M512 252.4H512.6M514.7 252.4H514.9M516.6 252.4H517.7M520.2 252.4h0M522.3 252.4h0M523.8 252.4H524M525.5 252.4H525.7M527.6 252.4H528.6M530.7 252.4H532.2M534.1 252.4H537.3M538.7 252.4H539.2M542.1 252.4H552.2M555 252.4H559.4M560.9 252.4H564M567.4 252.4H568.7M570.2 252.4H570.4M573.7 252.4H585.8M587.2 252.4H588.5M591 252.4h0M592.9 252.4H593.8M596.1 252.4H597.8M599.2 252.4h0M602.2 252.4H602.6M605.1 252.4H605.8M607.5 252.4H608.1M610.8 252.4h0M614 252.4H616.7M619.5 252.4h0M621 252.4H622.4M623.9 252.4H624.5M441.4 248.5h0M443.7 248.5h0M445.1 248.5H452.7M454.4 248.5H459.3M461.2 248.5h0M463.1 248.5H463.9M465.4 248.5H470.2M471.7 248.5H474.4M476.8 248.5H477.6M480.6 248.5H484.4M486.9 248.5H488.8M491.1 248.5H496.2M497.6 248.5H497.8M500 248.5H501.4M505.9 248.5H509M510.9 248.5H512.2M513.7 248.5H514.1M515.6 248.5H516.6M519.4 248.5h0M521 248.5H523.8M526.5 248.5H527.1M529 248.5H530.3M532.8 248.5H534.9M536.6 248.5H537.9M539.4 248.5H541.3M544.4 248.5H546.1M548 248.5h0M549.7 248.5H551.6M553.1 248.5h0M554.6 248.5H555M557.9 248.5H558.3M560.2 248.5h0M563 248.5H563.8M565.5 248.5h0M568.7 248.5H570.4M572.7 248.5h0M574.2 248.5H576.1M577.5 248.5H578M580.3 248.5H582.4M584.5 248.5H591.9M594.8 248.5h0M596.3 248.5H599.5M601.4 248.5H602M604.9 248.5h0M606.4 248.5H607.5M608.9 248.5h0M612.3 248.5H614M615.9 248.5h0M619.5 248.5H623.3M441.6 244.6H446.8M449.4 244.6H451.1M452.9 244.6H453.8M455.3 244.6H456.1M457.8 244.6h0M463.5 244.6H464.1M465.6 244.6H467.3M469.8 244.6h0M471.3 244.6H476.1M478.5 244.6h0M481 244.6H481.2M482.7 244.6H489.6M491.1 244.6H493.4M495.5 244.6h0M497 244.6H499.3M503.1 244.6H505M506.5 244.6H509.9M511.8 244.6H512.2M513.9 244.6h0M517.5 244.6H517.7M520.4 244.6H523.4M526.9 244.6h0M533.5 244.6H535.2M538.3 244.6H539.2M540.9 244.6H541.1M542.5 244.6H544M546.3 244.6H553.1M555.6 244.6h0M558.6 244.6h0M560.7 244.6H565.1M568.3 244.6H572.5M573.9 244.6H578.4M580.1 244.6h0M581.5 244.6H586.6M588.5 244.6H589.3M591.9 244.6H594.2M595.7 244.6H597.3M598.8 244.6H602.4M604.7 244.6H609.4M613.2 244.6H613.4M616.7 244.6H617.2M621.2 244.6h0M624.3 244.6H625M441.1 240.6H444.7M447 240.6H447.7M451.1 240.6H452.1M453.8 240.6H456.3M458 240.6H463.9M467.5 240.6h0M469.4 240.6H473.4M477.4 240.6h0M480.6 240.6h0M482.2 240.6H482.5M484.1 240.6h0M489.8 240.6H490.5M493.8 240.6H496.4M498.7 240.6H499.5M501 240.6H502.7M505.6 240.6h0M507.1 240.6H508.2M509.7 240.6H510.5M512.4 240.6H513.4M516.2 240.6h0M518.3 240.6h0M520.8 240.6H523.1M525.7 240.6H526.3M528.6 240.6h0M531.2 240.6h0M532.6 240.6h0M534.1 240.6h0M536.2 240.6H538.1M539.8 240.6H540M543 240.6H543.4M546.3 240.6h0M548.7 240.6h0M550.8 240.6h0M554.6 240.6h0M556.2 240.6h0M558.1 240.6H561.5M564 240.6h0M565.7 240.6h0M573.1 240.6H578M579.4 240.6H581.3M583.2 240.6h0M585.3 240.6h0M587.9 240.6H590M592.1 240.6H593.8M596.1 240.6H596.3M598.2 240.6h0M599.7 240.6H600.5M606 240.6H610M612.9 240.6h0M614.4 240.6h0M616.7 240.6h0M621.2 240.6h0M441.1 236.7h0M442.8 236.7H443M445.4 236.7H446M449.2 236.7H449.8M452.7 236.7H453.4M456.7 236.7h0M459.1 236.7H460.1M461.6 236.7h0M463.3 236.7h0M467.1 236.7h0M470 236.7H470.2M473 236.7H474M475.5 236.7h0M477.4 236.7H478.9M480.6 236.7H481.2M484.4 236.7h0M486 236.7h0M489.6 236.7h0M491.3 236.7H491.9M494.9 236.7h0M499.3 236.7h0M501.4 236.7h0M503.3 236.7H506.7M509.7 236.7H510.3M512.4 236.7h0M514.7 236.7H517.2M518.7 236.7h0M521.9 236.7H525M526.5 236.7H527.4M529.3 236.7H530.5M533.1 236.7h0M537.5 236.7h0M542.7 236.7H543.4M546.3 236.7H549.3M552.4 236.7H553.3M555.4 236.7h0M557.9 236.7H558.3M560.7 236.7h0M562.1 236.7h0M564 236.7H566.1M569.1 236.7h0M570.8 236.7h0M574.2 236.7H577.3M579 236.7h0M580.9 236.7h0M582.8 236.7H584.9M587 236.7H588.5M591.7 236.7H592.7M594.2 236.7H598M601.1 236.7H602M605.4 236.7h0M607.5 236.7h0M609.8 236.7h0M614.2 236.7H616.3M618.6 236.7h0M622.9 236.7H623.3M625 236.7h0M440.9 232.8H443.5M446.8 232.8H447.7M450 232.8H450.2M458 232.8h0M460.1 232.8h0M462 232.8H464.3M465.8 232.8H466.4M468.1 232.8h0M470.9 232.8h0M474.4 232.8H474.7M477.2 232.8H478.5M480.6 232.8h0M482.2 232.8h0M488.2 232.8h0M489.6 232.8H490.5M493.4 232.8H493.8M497.2 232.8h0M505.6 232.8H506.9M509.2 232.8H510.3M511.8 232.8h0M514.3 232.8H516.8M518.3 232.8h0M519.8 232.8H520M541.3 232.8H543.2M556.7 232.8H557.9M561.3 232.8h0M565.9 232.8H566.1M569.3 232.8H571.2M572.9 232.8H577.1M578.8 232.8H579M581.3 232.8H581.7M587.6 232.8H588.3M591.2 232.8H591.9M593.6 232.8h0M595.2 232.8h0M598 232.8H598.6M602.2 232.8h0M604.9 232.8h0M608.9 232.8h0M618.4 232.8h0M622.6 232.8h0M625 232.8h0M443.3 228.8h0M445.4 228.8h0M448.1 228.8h0M450 228.8h0M453.2 228.8h0M455.1 228.8H457M458.9 228.8H460.3M462 228.8H463.3M466.9 228.8H467.1M470.2 228.8H472.8M474.2 228.8H474.9M476.6 228.8H477.2M478.7 228.8h0M483.5 228.8H484.4M487.1 228.8h0M488.6 228.8h0M490.3 228.8h0M493.2 228.8h0M496.4 228.8h0M498.9 228.8H500.6M504 228.8H505.4M508.4 228.8h0M509.9 228.8H510.9M512.6 228.8h0M515.1 228.8h0M517.7 228.8h0M520.8 228.8H521.9M524.8 228.8h0M533.7 228.8H533.9M540.9 228.8h0M542.5 228.8h0M551 228.8H552M560.7 228.8h0M570.4 228.8H570.6M572 228.8H576.5M583.2 228.8h0M585.5 228.8h0M587.9 228.8h0M589.3 228.8h0M590.8 228.8H591.4M598.2 228.8H598.6M601.4 228.8H601.6M604.9 228.8h0M608.9 228.8H610.2M612.3 228.8h0M615.3 228.8H616.7M621.4 228.8h0M624.3 228.8h0M442.8 224.9h0M444.7 224.9H445.4M448.3 224.9h0M450 224.9h0M455.3 224.9h0M464.3 224.9h0M466.2 224.9H466.9M470 224.9h0M471.5 224.9h0M473.6 224.9h0M481 224.9H481.8M483.3 224.9h0M486 224.9h0M489.8 224.9H490.7M495.1 224.9h0M497.2 224.9H497.8M501.6 224.9h0M503.1 224.9H503.5M506.1 224.9h0M509.7 224.9H512.6M515.1 224.9h0M519.4 224.9h0M521.9 224.9h0M524.4 224.9h0M532.8 224.9h0M534.5 224.9h0M536.4 224.9h0M546.1 224.9h0M552 224.9H553.3M556.5 224.9H557.7M560.2 224.9H561.7M563.4 224.9H567.4M571.8 224.9h0M574.2 224.9H579.2M581.3 224.9H582.8M586.2 224.9H587M588.7 224.9h0M593.3 224.9H594.8M602.2 224.9h0M608.9 224.9H609.4M610.8 224.9h0M613.2 224.9H614M616.7 224.9H617.6M622.4 224.9h0M444.1 221H444.9M457.6 221h0M463.3 221H464.5M468.1 221H468.3M471.9 221H473.2M475.3 221h0M477.2 221H477.8M482 221H482.9M487.9 221h0M491.5 221h0M496.8 221H498.1M505.2 221H510.7M518.3 221H519.1M522.3 221h0M528.4 221h0M540.6 221H541.9M547.8 221h0M549.3 221H549.9M551.4 221h0M554.1 221h0M559 221h0M562.1 221H563.4M568.3 221h0M574.2 221H576.1M577.7 221h0M580.9 221H581.1M583 221H585.3M589.3 221h0M592.5 221h0M596.3 221h0M600.5 221H601.6M614.4 221h0M618.4 221h0M619.9 221h0M623.1 221h0M444.5 217h0M449.4 217H450M452.9 217h0M457.2 217h0M460.1 217H461.2M462.9 217H463.9M468.8 217H470.9M474.4 217h0M477.6 217h0M484.6 217H487.7M491.5 217h0M498.1 217h0M500.4 217h0M503.8 217H504.8M507.5 217H508.8M510.3 217H511.1M513.2 217H514.1M515.8 217H520M524.2 217H525.3M536.2 217h0M539.8 217H540.2M542.7 217H543.6M547.6 217h0M549.7 217h0M551.8 217h0M555.2 217h0M559.2 217H559.4M567 217h0M574.2 217H575.4M577.5 217h0M581.1 217H584.5M588.5 217H589.8M596.1 217h0M600.9 217h0M602.4 217h0M612.5 217H613.6M617.2 217H618.2M621.2 217h0M445.8 213.1h0M461.6 213.1h0M468.8 213.1h0M470.2 213.1h0M472.3 213.1H473.2M475.1 213.1H475.9M482.5 213.1h0M484.6 213.1h0M490.3 213.1H490.7M506.7 213.1H507.5M513.9 213.1h0M518.1 213.1h0M522.5 213.1H523.8M525.5 213.1H526.5M528 213.1h0M530.7 213.1h0M542.3 213.1h0M544.9 213.1h0M557.1 213.1h0M564.5 213.1h0M566.6 213.1H566.8M570.4 213.1h0M572.3 213.1H576.3M578.6 213.1H579.8M586 213.1h0M588.1 213.1h0M590.4 213.1H590.8M598 213.1H598.4M605.1 213.1H606.2M608.3 213.1h0M620.5 213.1h0M623.7 213.1h0M446.4 209.1h0M451.7 209.1h0M457.2 209.1H457.6M460.5 209.1h0M480.6 209.1h0M486.3 209.1h0M504.8 209.1h0M508.8 209.1H509M512.6 209.1h0M520.2 209.1h0M525.7 209.1h0M553.9 209.1h0M559.8 209.1H560M568.7 209.1H569.5M573.1 209.1H575.4M578.8 209.1h0M580.3 209.1h0M584.1 209.1h0M590.6 209.1H591.4M597.3 209.1H597.6M606 209.1H607.3M608.9 209.1H610.2M614.6 209.1h0M442.6 205.2h0M449.2 205.2h0M463.5 205.2h0M467.1 205.2h0M473.6 205.2h0M481.2 205.2h0M483.9 205.2h0M487.9 205.2h0M490.9 205.2h0M510.9 205.2h0M512.8 205.2h0M522.3 205.2h0M525 205.2h0M530.7 205.2H531.6M547.4 205.2h0M550.3 205.2h0M568.9 205.2h0M574.2 205.2H575M581.1 205.2H582.2M586 205.2h0M588.9 205.2H590.8M602.2 205.2h0M604.1 205.2h0M614.8 205.2h0M617 205.2h0M618.8 205.2h0M624.3 205.2h0M495.1 201.3H497.4M510.7 201.3h0M512.4 201.3h0M514.3 201.3h0M516.4 201.3h0M522.3 201.3h0M524.4 201.3H525.5M527.8 201.3h0M531.4 201.3h0M535.2 201.3H536.8M546.3 201.3h0M561.5 201.3h0M572 201.3h0M575.2 201.3H575.8M578.4 201.3h0M590.2 201.3h0M591.9 201.3h0M595.4 201.3h0M599.9 201.3h0M610 201.3h0M616.5 201.3h0M442.2 197.3h0M446.2 197.3h0M448.3 197.3h0M454.8 197.3H455.3M463.3 197.3h0M469.8 197.3h0M487.1 197.3h0M506.1 197.3H506.9M525.9 197.3h0M528.6 197.3H529M536.8 197.3h0M539.4 197.3h0M543.8 197.3H544M558.6 197.3h0M565.3 197.3h0M573.3 197.3H575.8M583.2 197.3h0M586.4 197.3h0M589.3 197.3h0M594.8 197.3h0M606.6 197.3h0M619.7 197.3h0M621.8 197.3h0M624.5 197.3h0M440.5 193.4h0M453.2 193.4h0M456.1 193.4h0M490.3 193.4H491.5M494.5 193.4h0M507.8 193.4h0M514.9 193.4h0M516.8 193.4h0M521.5 193.4h0M529.3 193.4h0M541.3 193.4h0M551.4 193.4h0M568.5 193.4h0M570.2 193.4h0M574.4 193.4H574.6M580.1 193.4H582M598.4 193.4h0M610.8 193.4h0M468.3 189.5h0M469.8 189.5h0M484.6 189.5h0M486.7 189.5h0M513.4 189.5h0M515.6 189.5h0M519.4 189.5h0M528.4 189.5h0M574.2 189.5h0M580.5 189.5h0M582 189.5h0M587.6 189.5h0M593.8 189.5h0M595.4 189.5h0M597.6 189.5h0M604.1 189.5h0M607.9 189.5h0M613.6 189.5h0M443.1 197.3h0M426.8 209.1h0M438.7 209.1H440M434 217H438M428.5 221H430.6M424.5 224.9h0M431.2 224.9h0M425.8 228.8h0M440.7 228.8h0M425.1 232.8h0M435.3 232.8h0M439.4 232.8H440M421.7 236.7H425.2M436 236.7H440M420.4 240.6h0M431.9 240.6h0M436 240.6H440M427.9 244.6H440M427.9 248.5H440M420.4 252.4h0M425.8 252.4H440M389.3 256.4h0M394.4 256.4H396.9M405 256.4h0M409.6 256.4H410.7M415.6 256.4h0M420.2 256.4H429.3M438.7 256.4H440M388.8 260.3h0M393.9 260.3H394.1M402.2 260.3H404.2M411 260.3h0M416.5 260.3H440M388.4 264.3h0M393.9 264.3H394.1M402.7 264.3H405.2M410.5 264.3H411.6M418.4 264.3H440M388.4 268.2h0M393.9 268.2H440M388.4 272.1H388.5M393.9 272.1H395M400.9 272.1H440M388.4 276.1h0M393 276.1H395.5M401.8 276.1H440M388.4 280H395M400.9 280H440M388 283.9H440M393.7 228.8h0M387.6 236.7h0M393.7 240.6h0M393.7 244.6h0M393.7 248.5h0M398.3 248.5h0M393.7 252.4h0M403.5 244.6h0M404.1 248.5h0M404.6 252.4h0M410.4 236.7h0M413 236.7h0M410.2 244.6h0M413 244.6h0M410.4 248.5h0M409.5 252.4h0M397.9 213.1h0M404.5 221h0M409.3 197.3h0M419.8 252.4h0M422.1 205.2h0M425.5 201.3h0M437.1 201.3h0M429.1 213.1h0M435.1 213.1h0M434.3 193.4h0M448.6 122.6h0M485.1 134.4h0M574.6 67.4h0M574.6 91.1h0M574.6 110.7h0M507 110.7h0M507 126.5h0M574.6 126.5h0M576 126.5h0M575.6 130.4h0M575 138.3h0M579.7 142.2h0M549.4 146.2h0M541.6 150.1h0M574.6 150.1h0M575 154h0M575 158h0M431.3 161.9h0M434.5 169.8h0M441.7 158h0M446.8 158h0M452.2 154h0M455.5 165.8h0M459 165.8h0M458.7 169.8h0M452.2 173.7h0M443.2 177.7h0M439.7 181.6h0M458.4 181.6h0M461.4 181.6h0M441.5 185.5h0M448.5 185.5h0M452.5 185.5h0M458.7 185.5h0M470.2 154h0M479.1 161.9h0M485.1 169.8h0M485.4 177.7h0M485.4 181.6h0M488.1 154h0M490.8 154h0M491.9 158h0M490.8 165.8h0M490.8 177.7h0M496.7 161.9h0M500.6 161.9h0M499.5 173.7h0M503.6 169.8h0M506.2 165.8h0M507.4 161.9h0M507.1 154h0M518.8 161.9h0M518.8 169.8h0M528.2 173.7h0M471 181.6h0M474.2 181.6h0M471.8 185.5h0M505.1 185.5h0M507.1 185.5h0M509.2 185.5h0M525.2 185.5h0M538.2 158h0M540.9 158h0M543.4 161.9h0M550.8 161.9h0M540.2 169.8h0M545.3 169.8h0M549.5 169.8h0M543.8 181.6h0M547.8 181.6h0M543.8 185.5h0M551.1 185.5h0M559.3 161.9h0M560.1 165.8h0M560.1 185.5h0M566.7 161.9h0M566.7 173.7h0M566.7 185.5h0M578.3 165.8h0M579.7 173.7h0M582.1 173.7h0M580.1 177.7h0M583 181.6h0M588.2 165.8h0M589.8 173.7h0M589.2 181.6h0M605.3 154h0M605.3 177.7h0M603.1 181.6h0M605 181.6h0M611.2 181.6h0M623.6 173.7h0M623 177.7h0M578.3 173.7h0" stroke="#ff0000" stroke-width="4" stroke-linecap="round" fill="none"/>
<polyline points="385.8,322.4 391.5,322.4 391.5,320.8 395.9,320.8 395.9,322.4 422.8,322.4 422.8,320.7 426.4,320.7 426.4,321.2 429,321.2 432.5,320.1 436.9,319.3 440.4,315.8 443,315.8 445.6,317.1 450,314.9 452.7,315.3 454.4,317.5 457.9,316.6 460.5,317.5 464,318.8 467.5,317.9 470,318.5 473.8,317.1 477.6,316.1 480.5,317.6 484.3,314.9 487.6,315.2 491.9,316.4 495.2,317.6 497.6,320.4 499,315.2 502.3,314.9 506.4,314.9 506.4,297.4 508.2,297.4 508.2,317.6 512.8,318 516.6,320.4 520.4,319.5 524.2,318 527,315.5 529.9,318 534.7,318.5 537.5,315.2 540.4,314.9 544.2,315.9 548,317.6 550.8,319.5 555.6,320.4 558.4,318.5 560.8,315.2 562.3,320.3 564,315 566,313.8 567.5,315 569,320 574.6,320.4 574.6,162.3 576.6,162.3 576.6,307.1 579.8,308.1 582.2,310.4 584.2,311.9 584.8,318.5 587.6,316.6 590.5,317.1 592.4,319.9 596.2,320.4 600.9,319.5 603.8,317.1 606.6,318.5 610.4,318 613.3,319.5 618,319.9 622.8,319.5 625.6,320.4 626.6,322.8" fill="none" stroke="#000" stroke-width="2.5" stroke-linejoin="miter" stroke-miterlimit="2"/>
<rect x="573.4" y="161.1" width="4.4" height="159" fill="#000"/>
<rect x="505.2" y="296.2" width="4.2" height="21" fill="#000"/>
<rect x="385.2" y="8.4" width="242.4" height="314.9" fill="none" stroke="#000" stroke-width="1.3"/>
<path d="M385.2 323.3h-4.3M385.2 283.9h-4.3M385.2 244.6h-4.3M385.2 205.2h-4.3M385.2 165.8h-4.3M385.2 126.5h-4.3M385.2 87.1h-4.3M385.2 47.8h-4.3M385.2 8.4h-4.3M627.6 323.3h4.5M627.6 244.6h4.5M627.6 165.8h4.5M627.6 87.1h4.5M627.6 8.4h4.5M387.6 323.3v4M387.6 8.4v-4.3M436.1 323.3v4M436.1 8.4v-4.3M484.4 323.3v4M484.4 8.4v-4.3M532.8 323.3v4M532.8 8.4v-4.3M581.3 323.3v4M581.3 8.4v-4.3" stroke="#000" stroke-width="0.7" fill="none"/>
<text x="376.6" y="327.6" font-size="12" text-anchor="end" style="font-family:'Liberation Sans',sans-serif">0</text>
<text x="376.6" y="288.2" font-size="12" text-anchor="end" style="font-family:'Liberation Sans',sans-serif">1</text>
<text x="376.6" y="248.9" font-size="12" text-anchor="end" style="font-family:'Liberation Sans',sans-serif">2</text>
<text x="376.6" y="209.5" font-size="12" text-anchor="end" style="font-family:'Liberation Sans',sans-serif">3</text>
<text x="376.6" y="170.2" font-size="12" text-anchor="end" style="font-family:'Liberation Sans',sans-serif">4</text>
<text x="376.6" y="130.8" font-size="12" text-anchor="end" style="font-family:'Liberation Sans',sans-serif">5</text>
<text x="376.6" y="91.4" font-size="12" text-anchor="end" style="font-family:'Liberation Sans',sans-serif">6</text>
<text x="376.6" y="52.1" font-size="12" text-anchor="end" style="font-family:'Liberation Sans',sans-serif">7</text>
<text x="376.6" y="12.7" font-size="12" text-anchor="end" style="font-family:'Liberation Sans',sans-serif">8</text>
<text x="662.9" y="328.2" font-size="12" text-anchor="end" style="font-family:'Liberation Sans',sans-serif">0</text>
<text x="662.9" y="249.5" font-size="12" text-anchor="end" style="font-family:'Liberation Sans',sans-serif">250</text>
<text x="662.9" y="170.8" font-size="12" text-anchor="end" style="font-family:'Liberation Sans',sans-serif">500</text>
<text x="662.9" y="92" font-size="12" text-anchor="end" style="font-family:'Liberation Sans',sans-serif">750</text>
<text x="662.9" y="13.3" font-size="12" text-anchor="end" style="font-family:'Liberation Sans',sans-serif">1000</text>
<text x="387.6" y="340.9" font-size="12" text-anchor="middle" style="font-family:'Liberation Sans',sans-serif">0</text>
<text x="436.1" y="340.9" font-size="12" text-anchor="middle" style="font-family:'Liberation Sans',sans-serif">230</text>
<text x="484.4" y="340.9" font-size="12" text-anchor="middle" style="font-family:'Liberation Sans',sans-serif">459</text>
<text x="532.8" y="340.9" font-size="12" text-anchor="middle" style="font-family:'Liberation Sans',sans-serif">689</text>
<text x="581.3" y="340.9" font-size="12" text-anchor="middle" style="font-family:'Liberation Sans',sans-serif">919</text>
<text x="506.4" y="363.2" font-size="15" text-anchor="middle" style="font-family:'Liberation Sans',sans-serif">Days after 2020/12/1</text>
<text transform="translate(361.2,165.5) rotate(-90)" x="0" y="0" font-size="15" text-anchor="middle" style="font-family:'Liberation Sans',sans-serif">Magnitude</text>
<text transform="translate(683.4,168) rotate(-90)" x="0" y="0" font-size="15" text-anchor="middle" style="font-family:'Liberation Sans',sans-serif">number</text>
<text x="388" y="34.7" font-size="18.7" style="font-family:'Liberation Sans',sans-serif">(b) N<tspan font-size="13" dy="5">eq</tspan><tspan dy="-5">= 69441</tspan></text>
</g>
</svg>
</body></html>
